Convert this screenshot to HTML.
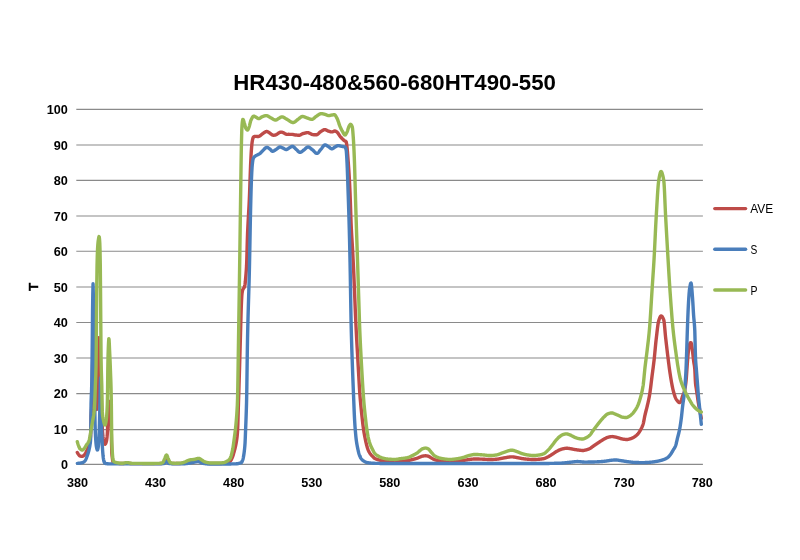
<!DOCTYPE html>
<html><head><meta charset="utf-8"><title>HR430-480&amp;560-680HT490-550</title>
<style>
html,body{margin:0;padding:0;background:#fff;}
body{width:800px;height:560px;overflow:hidden;}
svg{display:block;font-family:"Liberation Sans",sans-serif;will-change:transform;opacity:0.999;}
.g line{stroke:#8a8a8a;stroke-width:1.2;}
.ax text{font-size:12.2px;font-weight:bold;fill:#000;}
.c path{fill:none;stroke-width:3.4;stroke-linecap:round;stroke-linejoin:round;}
.lg text{font-size:12px;fill:#000;}
.lg line{stroke-width:3.4;stroke-linecap:round;}
</style></head><body>
<svg width="800" height="560" viewBox="0 0 800 560">
<rect width="800" height="560" fill="#fff"/>
<text x="394.6" y="89.5" text-anchor="middle" font-size="21.5" font-weight="bold" textLength="322.6" lengthAdjust="spacingAndGlyphs">HR430-480&amp;560-680HT490-550</text>
<g class="g"><line x1="76.3" x2="702.9" y1="464.45" y2="464.45"/><line x1="76.3" x2="702.9" y1="429.55" y2="429.55"/><line x1="76.3" x2="702.9" y1="393.70" y2="393.70"/><line x1="76.3" x2="702.9" y1="358.00" y2="358.00"/><line x1="76.3" x2="702.9" y1="322.50" y2="322.50"/><line x1="76.3" x2="702.9" y1="287.00" y2="287.00"/><line x1="76.3" x2="702.9" y1="251.25" y2="251.25"/><line x1="76.3" x2="702.9" y1="216.00" y2="216.00"/><line x1="76.3" x2="702.9" y1="180.40" y2="180.40"/><line x1="76.3" x2="702.9" y1="145.00" y2="145.00"/><line x1="76.3" x2="702.9" y1="109.45" y2="109.45"/></g>
<g class="ax"><text x="67.9" y="469.10" text-anchor="end" textLength="7.0" lengthAdjust="spacingAndGlyphs">0</text><text x="67.9" y="433.60" text-anchor="end" textLength="14.1" lengthAdjust="spacingAndGlyphs">10</text><text x="67.9" y="398.10" text-anchor="end" textLength="14.1" lengthAdjust="spacingAndGlyphs">20</text><text x="67.9" y="362.60" text-anchor="end" textLength="14.1" lengthAdjust="spacingAndGlyphs">30</text><text x="67.9" y="327.10" text-anchor="end" textLength="14.1" lengthAdjust="spacingAndGlyphs">40</text><text x="67.9" y="291.60" text-anchor="end" textLength="14.1" lengthAdjust="spacingAndGlyphs">50</text><text x="67.9" y="256.10" text-anchor="end" textLength="14.1" lengthAdjust="spacingAndGlyphs">60</text><text x="67.9" y="220.60" text-anchor="end" textLength="14.1" lengthAdjust="spacingAndGlyphs">70</text><text x="67.9" y="185.10" text-anchor="end" textLength="14.1" lengthAdjust="spacingAndGlyphs">80</text><text x="67.9" y="149.60" text-anchor="end" textLength="14.1" lengthAdjust="spacingAndGlyphs">90</text><text x="67.9" y="114.10" text-anchor="end" textLength="21.1" lengthAdjust="spacingAndGlyphs">100</text><text x="77.50" y="487" text-anchor="middle" textLength="21.1" lengthAdjust="spacingAndGlyphs">380</text><text x="155.59" y="487" text-anchor="middle" textLength="21.1" lengthAdjust="spacingAndGlyphs">430</text><text x="233.68" y="487" text-anchor="middle" textLength="21.1" lengthAdjust="spacingAndGlyphs">480</text><text x="311.77" y="487" text-anchor="middle" textLength="21.1" lengthAdjust="spacingAndGlyphs">530</text><text x="389.86" y="487" text-anchor="middle" textLength="21.1" lengthAdjust="spacingAndGlyphs">580</text><text x="467.95" y="487" text-anchor="middle" textLength="21.1" lengthAdjust="spacingAndGlyphs">630</text><text x="546.04" y="487" text-anchor="middle" textLength="21.1" lengthAdjust="spacingAndGlyphs">680</text><text x="624.13" y="487" text-anchor="middle" textLength="21.1" lengthAdjust="spacingAndGlyphs">730</text><text x="702.22" y="487" text-anchor="middle" textLength="21.1" lengthAdjust="spacingAndGlyphs">780</text></g>
<text transform="translate(38.4,286.9) rotate(-90)" text-anchor="middle" font-size="13.5" font-weight="bold" stroke="#000" stroke-width="0.45">T</text>
<g class="c">
<path stroke="#BE4B48" d="M77.30,452.51 L77.55,452.97 L77.80,453.40 L78.05,453.80 L78.30,454.17 L78.55,454.50 L78.80,454.82 L79.05,455.13 L79.30,455.42 L79.55,455.66 L79.80,455.85 L80.05,455.97 L80.30,456.06 L80.55,456.15 L80.80,456.22 L81.05,456.28 L81.30,456.33 L81.55,456.36 L81.80,456.37 L82.05,456.37 L82.30,456.35 L82.55,456.29 L82.80,456.19 L83.05,456.04 L83.30,455.86 L83.55,455.66 L83.80,455.43 L84.05,455.18 L84.30,454.93 L84.55,454.67 L84.80,454.37 L85.05,454.02 L85.30,453.62 L85.55,453.20 L85.80,452.74 L86.05,452.25 L86.30,451.74 L86.55,451.22 L86.80,450.71 L87.05,450.20 L87.30,449.68 L87.55,449.15 L87.80,448.60 L88.05,448.02 L88.30,447.38 L88.55,446.69 L88.80,445.92 L89.05,445.08 L89.30,444.14 L89.55,443.08 L89.80,441.81 L90.05,440.31 L90.30,438.75 L90.55,436.64 L90.80,430.18 L91.05,416.66 L91.30,412.47 L91.55,409.25 L91.80,403.55 L92.05,392.70 L92.30,380.66 L92.55,366.30 L92.80,357.07 L93.05,351.34 L93.30,355.78 L93.55,363.84 L93.80,371.80 L94.05,380.00 L94.30,389.01 L94.55,395.84 L94.80,404.01 L95.05,408.74 L95.30,409.26 L95.55,408.46 L95.80,407.07 L96.05,406.57 L96.30,407.43 L96.55,408.72 L96.80,409.38 L97.05,407.08 L97.30,401.78 L97.55,395.75 L97.80,388.48 L98.05,378.72 L98.30,364.11 L98.55,346.86 L98.80,337.61 L99.05,337.59 L99.30,343.70 L99.55,348.68 L99.80,353.68 L100.05,359.00 L100.30,364.65 L100.55,370.79 L100.80,377.69 L101.05,385.31 L101.30,393.40 L101.55,402.74 L101.80,413.02 L102.05,422.32 L102.30,428.58 L102.55,432.16 L102.80,434.85 L103.05,437.01 L103.30,438.73 L103.55,440.15 L103.80,441.36 L104.05,442.30 L104.30,443.06 L104.55,443.66 L104.80,444.05 L105.05,444.17 L105.30,444.03 L105.55,443.69 L105.80,443.18 L106.05,442.54 L106.30,441.81 L106.55,440.73 L106.80,439.08 L107.05,436.97 L107.30,434.11 L107.55,428.58 L107.80,416.33 L108.05,409.85 L108.30,405.99 L108.55,403.04 L108.80,401.29 L109.05,401.59 L109.30,403.90 L109.55,406.81 L109.80,409.42 L110.05,412.23 L110.30,415.31 L110.55,418.67 L110.80,422.00 L111.05,426.00 L111.30,432.00 L111.55,443.41 L111.80,452.74 L112.05,455.83 L112.30,457.75 L112.55,459.54 L112.80,461.13 L113.05,461.91 L113.30,462.24 L113.55,462.47 L113.80,462.63 L114.05,462.73 L114.30,462.81 L114.55,462.88 L114.80,462.95 L115.05,463.00 L115.30,463.06 L115.55,463.10 L115.80,463.14 L116.05,463.18 L116.30,463.21 L116.55,463.24 L116.80,463.27 L117.05,463.30 L117.30,463.32 L117.55,463.34 L117.80,463.36 L118.05,463.38 L118.30,463.40 L118.55,463.42 L118.80,463.43 L119.05,463.45 L119.30,463.47 L119.55,463.48 L119.80,463.50 L120.05,463.51 L120.30,463.52 L120.55,463.53 L120.80,463.54 L121.05,463.55 L121.30,463.56 L121.55,463.56 L121.80,463.56 L122.05,463.56 L122.30,463.56 L122.55,463.55 L122.80,463.54 L123.05,463.53 L123.30,463.51 L123.55,463.49 L123.80,463.47 L124.05,463.44 L124.30,463.42 L124.55,463.39 L124.80,463.37 L125.05,463.35 L125.30,463.32 L125.55,463.30 L125.80,463.29 L126.05,463.27 L126.30,463.26 L126.55,463.25 L126.80,463.24 L127.05,463.24 L127.30,463.25 L127.55,463.26 L127.80,463.27 L128.05,463.29 L128.30,463.31 L128.55,463.33 L128.80,463.35 L129.05,463.38 L129.30,463.40 L129.55,463.43 L129.80,463.45 L130.05,463.48 L130.30,463.50 L130.55,463.52 L130.80,463.54 L131.05,463.56 L131.30,463.58 L131.55,463.59 L131.80,463.59 L132.05,463.60 L132.30,463.60 L132.55,463.60 L132.80,463.60 L133.05,463.60 L133.30,463.60 L133.55,463.61 L133.80,463.61 L134.05,463.61 L134.30,463.61 L134.55,463.61 L134.80,463.61 L135.05,463.61 L135.30,463.62 L135.55,463.62 L135.80,463.62 L136.05,463.62 L136.30,463.62 L136.55,463.62 L136.80,463.62 L137.05,463.62 L137.30,463.62 L137.55,463.62 L137.80,463.62 L138.05,463.63 L138.30,463.63 L138.55,463.63 L138.80,463.63 L139.05,463.63 L139.30,463.63 L139.55,463.63 L139.80,463.63 L140.05,463.63 L140.30,463.63 L140.55,463.63 L140.80,463.63 L141.05,463.63 L141.30,463.63 L141.55,463.63 L141.80,463.63 L142.05,463.63 L142.30,463.64 L142.55,463.64 L142.80,463.64 L143.05,463.64 L143.30,463.64 L143.55,463.64 L143.80,463.64 L144.05,463.64 L144.30,463.64 L144.55,463.64 L144.80,463.64 L145.05,463.64 L145.30,463.64 L145.55,463.64 L145.80,463.64 L146.05,463.64 L146.30,463.64 L146.55,463.64 L146.80,463.64 L147.05,463.64 L147.30,463.64 L147.55,463.64 L147.80,463.64 L148.05,463.64 L148.30,463.64 L148.55,463.64 L148.80,463.64 L149.05,463.64 L149.30,463.64 L149.55,463.64 L149.80,463.64 L150.05,463.63 L150.30,463.63 L150.55,463.63 L150.80,463.63 L151.05,463.63 L151.30,463.63 L151.55,463.63 L151.80,463.63 L152.05,463.63 L152.30,463.63 L152.55,463.63 L152.80,463.63 L153.05,463.63 L153.30,463.63 L153.55,463.62 L153.80,463.62 L154.05,463.62 L154.30,463.62 L154.55,463.62 L154.80,463.62 L155.05,463.62 L155.30,463.61 L155.55,463.61 L155.80,463.61 L156.05,463.61 L156.30,463.61 L156.55,463.60 L156.80,463.60 L157.05,463.60 L157.30,463.60 L157.55,463.60 L157.80,463.59 L158.05,463.59 L158.30,463.59 L158.55,463.58 L158.80,463.58 L159.05,463.58 L159.30,463.58 L159.55,463.57 L159.80,463.57 L160.05,463.56 L160.30,463.56 L160.55,463.54 L160.80,463.52 L161.05,463.50 L161.30,463.47 L161.55,463.43 L161.80,463.39 L162.05,463.34 L162.30,463.29 L162.55,463.23 L162.80,463.11 L163.05,462.92 L163.30,462.68 L163.55,462.39 L163.80,462.09 L164.05,461.78 L164.30,461.45 L164.55,461.11 L164.80,460.72 L165.05,460.27 L165.30,459.80 L165.55,459.35 L165.80,458.95 L166.05,458.62 L166.30,458.42 L166.55,458.37 L166.80,458.50 L167.05,458.78 L167.30,459.17 L167.55,459.64 L167.80,460.14 L168.05,460.63 L168.30,461.07 L168.55,461.43 L168.80,461.74 L169.05,462.03 L169.30,462.30 L169.55,462.55 L169.80,462.78 L170.05,462.98 L170.30,463.13 L170.55,463.22 L170.80,463.26 L171.05,463.29 L171.30,463.33 L171.55,463.36 L171.80,463.39 L172.05,463.42 L172.30,463.44 L172.55,463.46 L172.80,463.48 L173.05,463.50 L173.30,463.52 L173.55,463.53 L173.80,463.54 L174.05,463.55 L174.30,463.56 L174.55,463.56 L174.80,463.57 L175.05,463.57 L175.30,463.57 L175.55,463.56 L175.80,463.56 L176.05,463.56 L176.30,463.56 L176.55,463.55 L176.80,463.55 L177.05,463.54 L177.30,463.54 L177.55,463.53 L177.80,463.53 L178.05,463.52 L178.30,463.51 L178.55,463.51 L178.80,463.50 L179.05,463.49 L179.30,463.48 L179.55,463.47 L179.80,463.46 L180.05,463.45 L180.30,463.44 L180.55,463.43 L180.80,463.41 L181.05,463.40 L181.30,463.39 L181.55,463.37 L181.80,463.34 L182.05,463.31 L182.30,463.28 L182.55,463.24 L182.80,463.21 L183.05,463.17 L183.30,463.12 L183.55,463.08 L183.80,463.03 L184.05,462.98 L184.30,462.94 L184.55,462.89 L184.80,462.84 L185.05,462.79 L185.30,462.74 L185.55,462.68 L185.80,462.61 L186.05,462.54 L186.30,462.46 L186.55,462.38 L186.80,462.30 L187.05,462.22 L187.30,462.14 L187.55,462.06 L187.80,461.99 L188.05,461.92 L188.30,461.85 L188.55,461.79 L188.80,461.72 L189.05,461.66 L189.30,461.60 L189.55,461.54 L189.80,461.48 L190.05,461.43 L190.30,461.38 L190.55,461.33 L190.80,461.29 L191.05,461.25 L191.30,461.22 L191.55,461.18 L191.80,461.15 L192.05,461.12 L192.30,461.08 L192.55,461.05 L192.80,461.02 L193.05,460.98 L193.30,460.94 L193.55,460.90 L193.80,460.85 L194.05,460.81 L194.30,460.76 L194.55,460.70 L194.80,460.64 L195.05,460.58 L195.30,460.52 L195.55,460.46 L195.80,460.40 L196.05,460.33 L196.30,460.28 L196.55,460.22 L196.80,460.17 L197.05,460.12 L197.30,460.07 L197.55,460.04 L197.80,460.01 L198.05,459.99 L198.30,459.98 L198.55,459.99 L198.80,460.02 L199.05,460.06 L199.30,460.14 L199.55,460.23 L199.80,460.34 L200.05,460.47 L200.30,460.61 L200.55,460.76 L200.80,460.91 L201.05,461.06 L201.30,461.21 L201.55,461.36 L201.80,461.49 L202.05,461.62 L202.30,461.74 L202.55,461.86 L202.80,461.97 L203.05,462.08 L203.30,462.19 L203.55,462.29 L203.80,462.40 L204.05,462.49 L204.30,462.58 L204.55,462.66 L204.80,462.73 L205.05,462.79 L205.30,462.84 L205.55,462.89 L205.80,462.95 L206.05,462.99 L206.30,463.04 L206.55,463.09 L206.80,463.13 L207.05,463.18 L207.30,463.22 L207.55,463.25 L207.80,463.29 L208.05,463.32 L208.30,463.36 L208.55,463.38 L208.80,463.41 L209.05,463.43 L209.30,463.45 L209.55,463.47 L209.80,463.48 L210.05,463.50 L210.30,463.50 L210.55,463.51 L210.80,463.51 L211.05,463.51 L211.30,463.51 L211.55,463.51 L211.80,463.51 L212.05,463.51 L212.30,463.51 L212.55,463.51 L212.80,463.51 L213.05,463.51 L213.30,463.51 L213.55,463.51 L213.80,463.51 L214.05,463.51 L214.30,463.51 L214.55,463.51 L214.80,463.51 L215.05,463.51 L215.30,463.51 L215.55,463.51 L215.80,463.51 L216.05,463.51 L216.30,463.51 L216.55,463.51 L216.80,463.51 L217.05,463.51 L217.30,463.51 L217.55,463.51 L217.80,463.51 L218.05,463.51 L218.30,463.50 L218.55,463.50 L218.80,463.50 L219.05,463.50 L219.30,463.49 L219.55,463.49 L219.80,463.48 L220.05,463.48 L220.30,463.47 L220.55,463.46 L220.80,463.45 L221.05,463.45 L221.30,463.44 L221.55,463.43 L221.80,463.42 L222.05,463.40 L222.30,463.39 L222.55,463.38 L222.80,463.37 L223.05,463.35 L223.30,463.34 L223.55,463.32 L223.80,463.31 L224.05,463.29 L224.30,463.26 L224.55,463.22 L224.80,463.17 L225.05,463.12 L225.30,463.06 L225.55,463.00 L225.80,462.93 L226.05,462.87 L226.30,462.79 L226.55,462.72 L226.80,462.65 L227.05,462.57 L227.30,462.50 L227.55,462.43 L227.80,462.35 L228.05,462.27 L228.30,462.18 L228.55,462.09 L228.80,461.98 L229.05,461.87 L229.30,461.75 L229.55,461.61 L229.80,461.46 L230.05,461.29 L230.30,461.07 L230.55,460.79 L230.80,460.44 L231.05,460.05 L231.30,459.61 L231.55,459.12 L231.80,458.61 L232.05,458.07 L232.30,457.51 L232.55,456.94 L232.80,456.28 L233.05,455.53 L233.30,454.70 L233.55,453.81 L233.80,452.89 L234.05,451.95 L234.30,451.02 L234.55,450.10 L234.80,449.19 L235.05,448.22 L235.30,447.18 L235.55,446.04 L235.80,444.84 L236.05,443.56 L236.30,442.16 L236.55,440.62 L236.80,438.90 L237.05,436.98 L237.30,434.62 L237.55,431.28 L237.80,425.38 L238.05,417.33 L238.30,408.51 L238.55,400.26 L238.80,392.37 L239.05,384.37 L239.30,376.22 L239.55,367.88 L239.80,359.23 L240.05,350.23 L240.30,341.15 L240.55,332.25 L240.80,323.27 L241.05,314.06 L241.30,306.17 L241.55,300.47 L241.80,295.81 L242.05,293.21 L242.30,291.66 L242.55,290.43 L242.80,289.61 L243.05,289.17 L243.30,288.77 L243.55,288.40 L243.80,288.03 L244.05,287.64 L244.30,287.14 L244.55,286.41 L244.80,285.50 L245.05,284.31 L245.30,282.05 L245.55,279.17 L245.80,276.42 L246.05,273.45 L246.30,270.03 L246.55,265.95 L246.80,259.47 L247.05,250.42 L247.30,241.11 L247.55,233.85 L247.80,228.19 L248.05,223.15 L248.30,218.52 L248.55,214.09 L248.80,209.66 L249.05,205.00 L249.30,199.82 L249.55,193.81 L249.80,186.90 L250.05,179.62 L250.30,172.51 L250.55,166.12 L250.80,160.58 L251.05,155.50 L251.30,151.21 L251.55,147.92 L251.80,145.06 L252.05,142.69 L252.30,140.97 L252.55,139.71 L252.80,138.66 L253.05,137.86 L253.30,137.34 L253.55,137.03 L253.80,136.81 L254.05,136.66 L254.30,136.56 L254.55,136.50 L254.80,136.46 L255.05,136.43 L255.30,136.42 L255.55,136.41 L255.80,136.41 L256.05,136.41 L256.30,136.41 L256.55,136.43 L256.80,136.45 L257.05,136.48 L257.30,136.50 L257.55,136.51 L257.80,136.51 L258.05,136.50 L258.30,136.49 L258.55,136.45 L258.80,136.39 L259.05,136.31 L259.30,136.20 L259.55,136.07 L259.80,135.92 L260.05,135.75 L260.30,135.57 L260.55,135.36 L260.80,135.15 L261.05,134.93 L261.30,134.71 L261.55,134.49 L261.80,134.29 L262.05,134.10 L262.30,133.93 L262.55,133.76 L262.80,133.59 L263.05,133.42 L263.30,133.24 L263.55,133.06 L263.80,132.88 L264.05,132.70 L264.30,132.52 L264.55,132.35 L264.80,132.19 L265.05,132.05 L265.30,131.91 L265.55,131.79 L265.80,131.69 L266.05,131.61 L266.30,131.56 L266.55,131.53 L266.80,131.53 L267.05,131.56 L267.30,131.63 L267.55,131.71 L267.80,131.82 L268.05,131.95 L268.30,132.10 L268.55,132.26 L268.80,132.43 L269.05,132.60 L269.30,132.78 L269.55,132.95 L269.80,133.13 L270.05,133.29 L270.30,133.47 L270.55,133.67 L270.80,133.88 L271.05,134.08 L271.30,134.28 L271.55,134.48 L271.80,134.66 L272.05,134.83 L272.30,134.96 L272.55,135.05 L272.80,135.11 L273.05,135.16 L273.30,135.20 L273.55,135.21 L273.80,135.22 L274.05,135.21 L274.30,135.19 L274.55,135.15 L274.80,135.11 L275.05,135.06 L275.30,134.99 L275.55,134.92 L275.80,134.83 L276.05,134.74 L276.30,134.62 L276.55,134.48 L276.80,134.33 L277.05,134.15 L277.30,133.97 L277.55,133.78 L277.80,133.60 L278.05,133.41 L278.30,133.23 L278.55,133.06 L278.80,132.90 L279.05,132.77 L279.30,132.64 L279.55,132.53 L279.80,132.42 L280.05,132.33 L280.30,132.26 L280.55,132.21 L280.80,132.17 L281.05,132.15 L281.30,132.15 L281.55,132.17 L281.80,132.20 L282.05,132.26 L282.30,132.34 L282.55,132.42 L282.80,132.50 L283.05,132.60 L283.30,132.70 L283.55,132.82 L283.80,132.95 L284.05,133.09 L284.30,133.23 L284.55,133.38 L284.80,133.53 L285.05,133.67 L285.30,133.81 L285.55,133.93 L285.80,134.05 L286.05,134.15 L286.30,134.23 L286.55,134.29 L286.80,134.33 L287.05,134.34 L287.30,134.35 L287.55,134.35 L287.80,134.34 L288.05,134.33 L288.30,134.32 L288.55,134.32 L288.80,134.32 L289.05,134.32 L289.30,134.33 L289.55,134.35 L289.80,134.37 L290.05,134.38 L290.30,134.38 L290.55,134.38 L290.80,134.37 L291.05,134.37 L291.30,134.36 L291.55,134.36 L291.80,134.36 L292.05,134.37 L292.30,134.38 L292.55,134.40 L292.80,134.44 L293.05,134.49 L293.30,134.55 L293.55,134.62 L293.80,134.69 L294.05,134.75 L294.30,134.82 L294.55,134.88 L294.80,134.93 L295.05,134.98 L295.30,135.02 L295.55,135.04 L295.80,135.06 L296.05,135.05 L296.30,135.05 L296.55,135.06 L296.80,135.08 L297.05,135.11 L297.30,135.14 L297.55,135.17 L297.80,135.22 L298.05,135.26 L298.30,135.29 L298.55,135.31 L298.80,135.31 L299.05,135.30 L299.30,135.26 L299.55,135.21 L299.80,135.13 L300.05,135.04 L300.30,134.92 L300.55,134.80 L300.80,134.67 L301.05,134.53 L301.30,134.39 L301.55,134.25 L301.80,134.11 L302.05,133.98 L302.30,133.86 L302.55,133.75 L302.80,133.65 L303.05,133.57 L303.30,133.49 L303.55,133.42 L303.80,133.36 L304.05,133.31 L304.30,133.26 L304.55,133.21 L304.80,133.15 L305.05,133.08 L305.30,133.02 L305.55,132.95 L305.80,132.89 L306.05,132.83 L306.30,132.77 L306.55,132.71 L306.80,132.67 L307.05,132.63 L307.30,132.60 L307.55,132.60 L307.80,132.62 L308.05,132.66 L308.30,132.72 L308.55,132.79 L308.80,132.88 L309.05,132.98 L309.30,133.09 L309.55,133.21 L309.80,133.33 L310.05,133.46 L310.30,133.59 L310.55,133.72 L310.80,133.85 L311.05,133.98 L311.30,134.11 L311.55,134.23 L311.80,134.34 L312.05,134.43 L312.30,134.50 L312.55,134.55 L312.80,134.59 L313.05,134.63 L313.30,134.66 L313.55,134.69 L313.80,134.72 L314.05,134.74 L314.30,134.76 L314.55,134.78 L314.80,134.80 L315.05,134.81 L315.30,134.81 L315.55,134.82 L315.80,134.82 L316.05,134.82 L316.30,134.80 L316.55,134.76 L316.80,134.69 L317.05,134.60 L317.30,134.48 L317.55,134.33 L317.80,134.15 L318.05,133.96 L318.30,133.75 L318.55,133.53 L318.80,133.29 L319.05,133.05 L319.30,132.81 L319.55,132.58 L319.80,132.34 L320.05,132.12 L320.30,131.91 L320.55,131.71 L320.80,131.54 L321.05,131.39 L321.30,131.24 L321.55,131.09 L321.80,130.93 L322.05,130.77 L322.30,130.61 L322.55,130.46 L322.80,130.30 L323.05,130.16 L323.30,130.03 L323.55,129.91 L323.80,129.81 L324.05,129.73 L324.30,129.67 L324.55,129.63 L324.80,129.62 L325.05,129.64 L325.30,129.69 L325.55,129.76 L325.80,129.85 L326.05,129.95 L326.30,130.07 L326.55,130.19 L326.80,130.32 L327.05,130.46 L327.30,130.59 L327.55,130.72 L327.80,130.85 L328.05,130.96 L328.30,131.07 L328.55,131.15 L328.80,131.24 L329.05,131.32 L329.30,131.40 L329.55,131.48 L329.80,131.56 L330.05,131.64 L330.30,131.71 L330.55,131.77 L330.80,131.82 L331.05,131.86 L331.30,131.90 L331.55,131.92 L331.80,131.92 L332.05,131.89 L332.30,131.85 L332.55,131.78 L332.80,131.70 L333.05,131.61 L333.30,131.51 L333.55,131.41 L333.80,131.30 L334.05,131.20 L334.30,131.10 L334.55,131.02 L334.80,131.00 L335.05,131.03 L335.30,131.10 L335.55,131.20 L335.80,131.32 L336.05,131.46 L336.30,131.62 L336.55,131.78 L336.80,131.95 L337.05,132.12 L337.30,132.32 L337.55,132.58 L337.80,132.88 L338.05,133.22 L338.30,133.59 L338.55,133.98 L338.80,134.38 L339.05,134.78 L339.30,135.18 L339.55,135.56 L339.80,135.92 L340.05,136.25 L340.30,136.57 L340.55,136.87 L340.80,137.17 L341.05,137.47 L341.30,137.75 L341.55,138.02 L341.80,138.28 L342.05,138.53 L342.30,138.76 L342.55,138.99 L342.80,139.22 L343.05,139.47 L343.30,139.73 L343.55,139.98 L343.80,140.23 L344.05,140.45 L344.30,140.65 L344.55,140.81 L344.80,140.93 L345.05,141.01 L345.30,141.10 L345.55,141.24 L345.80,141.46 L346.05,141.74 L346.30,142.19 L346.55,143.52 L346.80,145.43 L347.05,147.56 L347.30,150.16 L347.55,153.14 L347.80,156.34 L348.05,159.63 L348.30,162.90 L348.55,166.27 L348.80,169.86 L349.05,173.76 L349.30,177.99 L349.55,182.66 L349.80,187.84 L350.05,193.52 L350.30,200.26 L350.55,207.79 L350.80,215.43 L351.05,222.45 L351.30,228.15 L351.55,232.91 L351.80,237.20 L352.05,241.20 L352.30,245.06 L352.55,249.27 L352.80,253.92 L353.05,258.76 L353.30,263.63 L353.55,268.65 L353.80,274.04 L354.05,279.88 L354.30,285.87 L354.55,291.78 L354.80,298.07 L355.05,304.52 L355.30,310.69 L355.55,316.36 L355.80,321.81 L356.05,327.05 L356.30,332.06 L356.55,336.84 L356.80,341.39 L357.05,345.80 L357.30,350.14 L357.55,354.52 L357.80,358.98 L358.05,363.45 L358.30,367.91 L358.55,372.33 L358.80,376.76 L359.05,381.28 L359.30,385.68 L359.55,389.78 L359.80,393.38 L360.05,396.61 L360.30,399.63 L360.55,402.45 L360.80,405.12 L361.05,407.66 L361.30,410.10 L361.55,412.49 L361.80,414.85 L362.05,417.16 L362.30,419.42 L362.55,421.62 L362.80,423.73 L363.05,425.74 L363.30,427.65 L363.55,429.44 L363.80,431.10 L364.05,432.64 L364.30,434.07 L364.55,435.43 L364.80,436.72 L365.05,437.97 L365.30,439.18 L365.55,440.37 L365.80,441.53 L366.05,442.65 L366.30,443.73 L366.55,444.74 L366.80,445.69 L367.05,446.58 L367.30,447.42 L367.55,448.22 L367.80,448.96 L368.05,449.65 L368.30,450.26 L368.55,450.82 L368.80,451.34 L369.05,451.82 L369.30,452.27 L369.55,452.70 L369.80,453.10 L370.05,453.47 L370.30,453.82 L370.55,454.16 L370.80,454.48 L371.05,454.78 L371.30,455.07 L371.55,455.36 L371.80,455.63 L372.05,455.89 L372.30,456.15 L372.55,456.40 L372.80,456.66 L373.05,456.91 L373.30,457.16 L373.55,457.41 L373.80,457.65 L374.05,457.87 L374.30,458.08 L374.55,458.26 L374.80,458.43 L375.05,458.57 L375.30,458.69 L375.55,458.81 L375.80,458.92 L376.05,459.03 L376.30,459.12 L376.55,459.22 L376.80,459.30 L377.05,459.39 L377.30,459.47 L377.55,459.55 L377.80,459.62 L378.05,459.69 L378.30,459.76 L378.55,459.84 L378.80,459.91 L379.05,459.97 L379.30,460.04 L379.55,460.11 L379.80,460.18 L380.05,460.24 L380.30,460.30 L380.55,460.36 L380.80,460.42 L381.05,460.47 L381.30,460.53 L381.55,460.58 L381.80,460.62 L382.05,460.67 L382.30,460.71 L382.55,460.75 L382.80,460.78 L383.05,460.82 L383.30,460.85 L383.55,460.88 L383.80,460.92 L384.05,460.95 L384.30,460.98 L384.55,461.01 L384.80,461.04 L385.05,461.06 L385.30,461.09 L385.55,461.12 L385.80,461.14 L386.05,461.16 L386.30,461.18 L386.55,461.20 L386.80,461.22 L387.05,461.24 L387.30,461.26 L387.55,461.27 L387.80,461.28 L388.05,461.29 L388.30,461.30 L388.55,461.32 L388.80,461.33 L389.05,461.34 L389.30,461.35 L389.55,461.35 L389.80,461.36 L390.05,461.37 L390.30,461.38 L390.55,461.39 L390.80,461.40 L391.05,461.41 L391.30,461.41 L391.55,461.42 L391.80,461.43 L392.05,461.43 L392.30,461.44 L392.55,461.44 L392.80,461.45 L393.05,461.45 L393.30,461.46 L393.55,461.46 L393.80,461.46 L394.05,461.47 L394.30,461.47 L394.55,461.47 L394.80,461.47 L395.05,461.47 L395.30,461.47 L395.55,461.46 L395.80,461.45 L396.05,461.44 L396.30,461.43 L396.55,461.41 L396.80,461.40 L397.05,461.38 L397.30,461.36 L397.55,461.33 L397.80,461.31 L398.05,461.29 L398.30,461.26 L398.55,461.24 L398.80,461.22 L399.05,461.19 L399.30,461.17 L399.55,461.15 L399.80,461.13 L400.05,461.11 L400.30,461.10 L400.55,461.08 L400.80,461.06 L401.05,461.05 L401.30,461.03 L401.55,461.02 L401.80,461.00 L402.05,460.99 L402.30,460.97 L402.55,460.96 L402.80,460.94 L403.05,460.93 L403.30,460.91 L403.55,460.90 L403.80,460.88 L404.05,460.87 L404.30,460.85 L404.55,460.84 L404.80,460.82 L405.05,460.80 L405.30,460.78 L405.55,460.76 L405.80,460.74 L406.05,460.72 L406.30,460.70 L406.55,460.68 L406.80,460.66 L407.05,460.63 L407.30,460.61 L407.55,460.58 L407.80,460.55 L408.05,460.51 L408.30,460.47 L408.55,460.43 L408.80,460.39 L409.05,460.34 L409.30,460.29 L409.55,460.23 L409.80,460.18 L410.05,460.12 L410.30,460.06 L410.55,460.00 L410.80,459.94 L411.05,459.88 L411.30,459.82 L411.55,459.75 L411.80,459.69 L412.05,459.63 L412.30,459.57 L412.55,459.51 L412.80,459.45 L413.05,459.39 L413.30,459.32 L413.55,459.26 L413.80,459.20 L414.05,459.14 L414.30,459.07 L414.55,459.00 L414.80,458.94 L415.05,458.87 L415.30,458.80 L415.55,458.73 L415.80,458.65 L416.05,458.58 L416.30,458.50 L416.55,458.42 L416.80,458.34 L417.05,458.26 L417.30,458.17 L417.55,458.07 L417.80,457.97 L418.05,457.87 L418.30,457.76 L418.55,457.65 L418.80,457.54 L419.05,457.43 L419.30,457.32 L419.55,457.21 L419.80,457.11 L420.05,457.01 L420.30,456.92 L420.55,456.81 L420.80,456.71 L421.05,456.61 L421.30,456.51 L421.55,456.41 L421.80,456.33 L422.05,456.25 L422.30,456.19 L422.55,456.14 L422.80,456.09 L423.05,456.05 L423.30,456.01 L423.55,455.97 L423.80,455.93 L424.05,455.90 L424.30,455.87 L424.55,455.84 L424.80,455.82 L425.05,455.81 L425.30,455.80 L425.55,455.79 L425.80,455.79 L426.05,455.81 L426.30,455.83 L426.55,455.86 L426.80,455.90 L427.05,455.95 L427.30,456.00 L427.55,456.05 L427.80,456.11 L428.05,456.17 L428.30,456.23 L428.55,456.31 L428.80,456.42 L429.05,456.54 L429.30,456.68 L429.55,456.83 L429.80,456.99 L430.05,457.16 L430.30,457.32 L430.55,457.48 L430.80,457.63 L431.05,457.77 L431.30,457.91 L431.55,458.05 L431.80,458.19 L432.05,458.34 L432.30,458.49 L432.55,458.63 L432.80,458.77 L433.05,458.92 L433.30,459.05 L433.55,459.18 L433.80,459.31 L434.05,459.43 L434.30,459.54 L434.55,459.64 L434.80,459.72 L435.05,459.80 L435.30,459.87 L435.55,459.94 L435.80,460.01 L436.05,460.07 L436.30,460.13 L436.55,460.19 L436.80,460.25 L437.05,460.31 L437.30,460.36 L437.55,460.42 L437.80,460.47 L438.05,460.52 L438.30,460.56 L438.55,460.61 L438.80,460.65 L439.05,460.69 L439.30,460.73 L439.55,460.77 L439.80,460.80 L440.05,460.83 L440.30,460.86 L440.55,460.89 L440.80,460.92 L441.05,460.94 L441.30,460.97 L441.55,460.99 L441.80,461.01 L442.05,461.04 L442.30,461.06 L442.55,461.08 L442.80,461.10 L443.05,461.12 L443.30,461.14 L443.55,461.17 L443.80,461.19 L444.05,461.21 L444.30,461.23 L444.55,461.24 L444.80,461.26 L445.05,461.28 L445.30,461.30 L445.55,461.31 L445.80,461.33 L446.05,461.34 L446.30,461.36 L446.55,461.37 L446.80,461.39 L447.05,461.40 L447.30,461.41 L447.55,461.42 L447.80,461.43 L448.05,461.44 L448.30,461.45 L448.55,461.45 L448.80,461.46 L449.05,461.46 L449.30,461.47 L449.55,461.47 L449.80,461.47 L450.05,461.47 L450.30,461.47 L450.55,461.47 L450.80,461.46 L451.05,461.46 L451.30,461.45 L451.55,461.45 L451.80,461.44 L452.05,461.43 L452.30,461.42 L452.55,461.41 L452.80,461.39 L453.05,461.38 L453.30,461.37 L453.55,461.35 L453.80,461.34 L454.05,461.32 L454.30,461.31 L454.55,461.29 L454.80,461.28 L455.05,461.26 L455.30,461.25 L455.55,461.23 L455.80,461.22 L456.05,461.20 L456.30,461.19 L456.55,461.17 L456.80,461.15 L457.05,461.13 L457.30,461.12 L457.55,461.10 L457.80,461.08 L458.05,461.05 L458.30,461.03 L458.55,461.01 L458.80,460.99 L459.05,460.96 L459.30,460.94 L459.55,460.91 L459.80,460.89 L460.05,460.86 L460.30,460.84 L460.55,460.81 L460.80,460.78 L461.05,460.75 L461.30,460.72 L461.55,460.70 L461.80,460.67 L462.05,460.64 L462.30,460.61 L462.55,460.58 L462.80,460.55 L463.05,460.51 L463.30,460.47 L463.55,460.44 L463.80,460.40 L464.05,460.35 L464.30,460.31 L464.55,460.27 L464.80,460.22 L465.05,460.18 L465.30,460.13 L465.55,460.08 L465.80,460.04 L466.05,459.99 L466.30,459.94 L466.55,459.90 L466.80,459.85 L467.05,459.81 L467.30,459.77 L467.55,459.72 L467.80,459.68 L468.05,459.65 L468.30,459.61 L468.55,459.57 L468.80,459.54 L469.05,459.51 L469.30,459.48 L469.55,459.45 L469.80,459.42 L470.05,459.39 L470.30,459.36 L470.55,459.33 L470.80,459.30 L471.05,459.27 L471.30,459.24 L471.55,459.22 L471.80,459.19 L472.05,459.16 L472.30,459.14 L472.55,459.11 L472.80,459.09 L473.05,459.07 L473.30,459.05 L473.55,459.03 L473.80,459.02 L474.05,459.01 L474.30,459.00 L474.55,458.99 L474.80,458.99 L475.05,458.99 L475.30,458.99 L475.55,458.99 L475.80,458.99 L476.05,458.99 L476.30,459.00 L476.55,459.00 L476.80,459.00 L477.05,459.01 L477.30,459.01 L477.55,459.02 L477.80,459.03 L478.05,459.03 L478.30,459.04 L478.55,459.05 L478.80,459.06 L479.05,459.06 L479.30,459.07 L479.55,459.08 L479.80,459.09 L480.05,459.10 L480.30,459.11 L480.55,459.11 L480.80,459.12 L481.05,459.13 L481.30,459.14 L481.55,459.15 L481.80,459.16 L482.05,459.17 L482.30,459.17 L482.55,459.18 L482.80,459.19 L483.05,459.21 L483.30,459.22 L483.55,459.23 L483.80,459.24 L484.05,459.26 L484.30,459.27 L484.55,459.29 L484.80,459.30 L485.05,459.32 L485.30,459.33 L485.55,459.35 L485.80,459.36 L486.05,459.38 L486.30,459.39 L486.55,459.40 L486.80,459.42 L487.05,459.43 L487.30,459.44 L487.55,459.46 L487.80,459.47 L488.05,459.48 L488.30,459.49 L488.55,459.49 L488.80,459.50 L489.05,459.51 L489.30,459.51 L489.55,459.52 L489.80,459.52 L490.05,459.52 L490.30,459.52 L490.55,459.52 L490.80,459.51 L491.05,459.51 L491.30,459.50 L491.55,459.50 L491.80,459.49 L492.05,459.48 L492.30,459.47 L492.55,459.46 L492.80,459.45 L493.05,459.44 L493.30,459.43 L493.55,459.42 L493.80,459.40 L494.05,459.39 L494.30,459.38 L494.55,459.36 L494.80,459.35 L495.05,459.33 L495.30,459.32 L495.55,459.30 L495.80,459.28 L496.05,459.27 L496.30,459.25 L496.55,459.23 L496.80,459.21 L497.05,459.18 L497.30,459.15 L497.55,459.11 L497.80,459.08 L498.05,459.04 L498.30,459.00 L498.55,458.95 L498.80,458.91 L499.05,458.86 L499.30,458.81 L499.55,458.76 L499.80,458.71 L500.05,458.66 L500.30,458.61 L500.55,458.56 L500.80,458.51 L501.05,458.46 L501.30,458.41 L501.55,458.36 L501.80,458.31 L502.05,458.26 L502.30,458.22 L502.55,458.17 L502.80,458.13 L503.05,458.09 L503.30,458.05 L503.55,458.01 L503.80,457.97 L504.05,457.92 L504.30,457.88 L504.55,457.84 L504.80,457.79 L505.05,457.74 L505.30,457.70 L505.55,457.65 L505.80,457.60 L506.05,457.56 L506.30,457.51 L506.55,457.47 L506.80,457.42 L507.05,457.38 L507.30,457.33 L507.55,457.29 L507.80,457.25 L508.05,457.21 L508.30,457.17 L508.55,457.13 L508.80,457.09 L509.05,457.06 L509.30,457.03 L509.55,457.00 L509.80,456.97 L510.05,456.95 L510.30,456.93 L510.55,456.91 L510.80,456.89 L511.05,456.88 L511.30,456.87 L511.55,456.86 L511.80,456.86 L512.05,456.86 L512.30,456.86 L512.55,456.88 L512.80,456.89 L513.05,456.92 L513.30,456.94 L513.55,456.97 L513.80,457.01 L514.05,457.04 L514.30,457.08 L514.55,457.13 L514.80,457.17 L515.05,457.21 L515.30,457.26 L515.55,457.31 L515.80,457.35 L516.05,457.40 L516.30,457.45 L516.55,457.49 L516.80,457.53 L517.05,457.57 L517.30,457.62 L517.55,457.66 L517.80,457.71 L518.05,457.76 L518.30,457.81 L518.55,457.86 L518.80,457.91 L519.05,457.96 L519.30,458.02 L519.55,458.07 L519.80,458.12 L520.05,458.18 L520.30,458.23 L520.55,458.28 L520.80,458.33 L521.05,458.38 L521.30,458.43 L521.55,458.48 L521.80,458.52 L522.05,458.56 L522.30,458.60 L522.55,458.64 L522.80,458.67 L523.05,458.71 L523.30,458.74 L523.55,458.78 L523.80,458.81 L524.05,458.84 L524.30,458.88 L524.55,458.91 L524.80,458.94 L525.05,458.97 L525.30,459.00 L525.55,459.03 L525.80,459.06 L526.05,459.08 L526.30,459.11 L526.55,459.13 L526.80,459.16 L527.05,459.18 L527.30,459.20 L527.55,459.22 L527.80,459.24 L528.05,459.26 L528.30,459.27 L528.55,459.29 L528.80,459.31 L529.05,459.32 L529.30,459.34 L529.55,459.35 L529.80,459.37 L530.05,459.39 L530.30,459.40 L530.55,459.42 L530.80,459.43 L531.05,459.44 L531.30,459.45 L531.55,459.47 L531.80,459.48 L532.05,459.49 L532.30,459.49 L532.55,459.50 L532.80,459.51 L533.05,459.51 L533.30,459.52 L533.55,459.52 L533.80,459.52 L534.05,459.52 L534.30,459.51 L534.55,459.51 L534.80,459.50 L535.05,459.50 L535.30,459.49 L535.55,459.48 L535.80,459.46 L536.05,459.45 L536.30,459.44 L536.55,459.42 L536.80,459.41 L537.05,459.39 L537.30,459.38 L537.55,459.36 L537.80,459.34 L538.05,459.32 L538.30,459.30 L538.55,459.29 L538.80,459.27 L539.05,459.25 L539.30,459.23 L539.55,459.21 L539.80,459.19 L540.05,459.16 L540.30,459.14 L540.55,459.11 L540.80,459.09 L541.05,459.06 L541.30,459.03 L541.55,458.99 L541.80,458.96 L542.05,458.92 L542.30,458.88 L542.55,458.84 L542.80,458.80 L543.05,458.76 L543.30,458.71 L543.55,458.66 L543.80,458.61 L544.05,458.56 L544.30,458.49 L544.55,458.41 L544.80,458.32 L545.05,458.23 L545.30,458.13 L545.55,458.02 L545.80,457.91 L546.05,457.80 L546.30,457.68 L546.55,457.56 L546.80,457.43 L547.05,457.30 L547.30,457.18 L547.55,457.05 L547.80,456.92 L548.05,456.80 L548.30,456.67 L548.55,456.54 L548.80,456.40 L549.05,456.26 L549.30,456.12 L549.55,455.97 L549.80,455.83 L550.05,455.67 L550.30,455.52 L550.55,455.36 L550.80,455.21 L551.05,455.05 L551.30,454.89 L551.55,454.73 L551.80,454.57 L552.05,454.41 L552.30,454.25 L552.55,454.09 L552.80,453.92 L553.05,453.76 L553.30,453.59 L553.55,453.41 L553.80,453.24 L554.05,453.06 L554.30,452.88 L554.55,452.71 L554.80,452.53 L555.05,452.36 L555.30,452.20 L555.55,452.04 L555.80,451.89 L556.05,451.74 L556.30,451.60 L556.55,451.45 L556.80,451.31 L557.05,451.17 L557.30,451.04 L557.55,450.90 L557.80,450.77 L558.05,450.64 L558.30,450.51 L558.55,450.39 L558.80,450.27 L559.05,450.15 L559.30,450.04 L559.55,449.94 L559.80,449.83 L560.05,449.74 L560.30,449.64 L560.55,449.55 L560.80,449.45 L561.05,449.36 L561.30,449.27 L561.55,449.18 L561.80,449.10 L562.05,449.02 L562.30,448.95 L562.55,448.88 L562.80,448.82 L563.05,448.77 L563.30,448.72 L563.55,448.67 L563.80,448.62 L564.05,448.57 L564.30,448.52 L564.55,448.47 L564.80,448.43 L565.05,448.39 L565.30,448.36 L565.55,448.32 L565.80,448.30 L566.05,448.28 L566.30,448.26 L566.55,448.25 L566.80,448.25 L567.05,448.26 L567.30,448.27 L567.55,448.29 L567.80,448.31 L568.05,448.34 L568.30,448.37 L568.55,448.40 L568.80,448.43 L569.05,448.47 L569.30,448.50 L569.55,448.54 L569.80,448.58 L570.05,448.61 L570.30,448.65 L570.55,448.68 L570.80,448.73 L571.05,448.77 L571.30,448.82 L571.55,448.87 L571.80,448.92 L572.05,448.98 L572.30,449.03 L572.55,449.08 L572.80,449.14 L573.05,449.19 L573.30,449.25 L573.55,449.30 L573.80,449.35 L574.05,449.40 L574.30,449.44 L574.55,449.49 L574.80,449.53 L575.05,449.56 L575.30,449.60 L575.55,449.64 L575.80,449.67 L576.05,449.71 L576.30,449.75 L576.55,449.79 L576.80,449.83 L577.05,449.87 L577.30,449.91 L577.55,449.94 L577.80,449.98 L578.05,450.02 L578.30,450.05 L578.55,450.09 L578.80,450.12 L579.05,450.14 L579.30,450.17 L579.55,450.20 L579.80,450.23 L580.05,450.26 L580.30,450.29 L580.55,450.32 L580.80,450.35 L581.05,450.37 L581.30,450.40 L581.55,450.42 L581.80,450.44 L582.05,450.46 L582.30,450.48 L582.55,450.49 L582.80,450.49 L583.05,450.49 L583.30,450.47 L583.55,450.45 L583.80,450.41 L584.05,450.38 L584.30,450.33 L584.55,450.28 L584.80,450.22 L585.05,450.16 L585.30,450.10 L585.55,450.04 L585.80,449.98 L586.05,449.92 L586.30,449.86 L586.55,449.79 L586.80,449.72 L587.05,449.65 L587.30,449.57 L587.55,449.49 L587.80,449.41 L588.05,449.32 L588.30,449.23 L588.55,449.13 L588.80,449.03 L589.05,448.93 L589.30,448.82 L589.55,448.70 L589.80,448.58 L590.05,448.46 L590.30,448.32 L590.55,448.16 L590.80,447.99 L591.05,447.81 L591.30,447.61 L591.55,447.41 L591.80,447.21 L592.05,447.02 L592.30,446.83 L592.55,446.65 L592.80,446.47 L593.05,446.30 L593.30,446.12 L593.55,445.95 L593.80,445.78 L594.05,445.60 L594.30,445.43 L594.55,445.26 L594.80,445.09 L595.05,444.91 L595.30,444.74 L595.55,444.57 L595.80,444.40 L596.05,444.23 L596.30,444.07 L596.55,443.90 L596.80,443.73 L597.05,443.56 L597.30,443.39 L597.55,443.22 L597.80,443.05 L598.05,442.89 L598.30,442.72 L598.55,442.55 L598.80,442.38 L599.05,442.21 L599.30,442.05 L599.55,441.88 L599.80,441.72 L600.05,441.55 L600.30,441.39 L600.55,441.23 L600.80,441.07 L601.05,440.91 L601.30,440.76 L601.55,440.60 L601.80,440.44 L602.05,440.29 L602.30,440.13 L602.55,439.98 L602.80,439.83 L603.05,439.68 L603.30,439.53 L603.55,439.39 L603.80,439.24 L604.05,439.10 L604.30,438.97 L604.55,438.84 L604.80,438.71 L605.05,438.57 L605.30,438.43 L605.55,438.30 L605.80,438.16 L606.05,438.03 L606.30,437.90 L606.55,437.78 L606.80,437.67 L607.05,437.57 L607.30,437.48 L607.55,437.40 L607.80,437.34 L608.05,437.27 L608.30,437.20 L608.55,437.13 L608.80,437.07 L609.05,437.01 L609.30,436.95 L609.55,436.90 L609.80,436.84 L610.05,436.79 L610.30,436.75 L610.55,436.71 L610.80,436.67 L611.05,436.64 L611.30,436.62 L611.55,436.60 L611.80,436.58 L612.05,436.57 L612.30,436.57 L612.55,436.58 L612.80,436.60 L613.05,436.63 L613.30,436.67 L613.55,436.71 L613.80,436.75 L614.05,436.80 L614.30,436.85 L614.55,436.90 L614.80,436.95 L615.05,436.99 L615.30,437.04 L615.55,437.08 L615.80,437.14 L616.05,437.19 L616.30,437.25 L616.55,437.31 L616.80,437.38 L617.05,437.45 L617.30,437.52 L617.55,437.59 L617.80,437.66 L618.05,437.74 L618.30,437.81 L618.55,437.89 L618.80,437.96 L619.05,438.04 L619.30,438.12 L619.55,438.20 L619.80,438.28 L620.05,438.36 L620.30,438.44 L620.55,438.52 L620.80,438.60 L621.05,438.68 L621.30,438.75 L621.55,438.82 L621.80,438.89 L622.05,438.95 L622.30,439.00 L622.55,439.04 L622.80,439.08 L623.05,439.12 L623.30,439.16 L623.55,439.19 L623.80,439.23 L624.05,439.27 L624.30,439.30 L624.55,439.34 L624.80,439.37 L625.05,439.40 L625.30,439.43 L625.55,439.45 L625.80,439.48 L626.05,439.50 L626.30,439.52 L626.55,439.53 L626.80,439.53 L627.05,439.51 L627.30,439.48 L627.55,439.45 L627.80,439.41 L628.05,439.36 L628.30,439.30 L628.55,439.25 L628.80,439.19 L629.05,439.13 L629.30,439.07 L629.55,439.01 L629.80,438.95 L630.05,438.88 L630.30,438.81 L630.55,438.73 L630.80,438.65 L631.05,438.56 L631.30,438.46 L631.55,438.36 L631.80,438.26 L632.05,438.15 L632.30,438.04 L632.55,437.93 L632.80,437.81 L633.05,437.68 L633.30,437.54 L633.55,437.40 L633.80,437.25 L634.05,437.09 L634.30,436.93 L634.55,436.76 L634.80,436.58 L635.05,436.41 L635.30,436.23 L635.55,436.05 L635.80,435.86 L636.05,435.66 L636.30,435.46 L636.55,435.25 L636.80,435.03 L637.05,434.80 L637.30,434.56 L637.55,434.31 L637.80,434.03 L638.05,433.74 L638.30,433.42 L638.55,433.09 L638.80,432.75 L639.05,432.38 L639.30,432.00 L639.55,431.61 L639.80,431.21 L640.05,430.80 L640.30,430.38 L640.55,429.96 L640.80,429.52 L641.05,429.06 L641.30,428.58 L641.55,428.08 L641.80,427.54 L642.05,426.98 L642.30,426.37 L642.55,425.73 L642.80,425.05 L643.05,424.31 L643.30,423.40 L643.55,422.32 L643.80,421.11 L644.05,419.82 L644.30,418.50 L644.55,417.19 L644.80,415.94 L645.05,414.81 L645.30,413.75 L645.55,412.73 L645.80,411.74 L646.05,410.76 L646.30,409.78 L646.55,408.81 L646.80,407.81 L647.05,406.79 L647.30,405.74 L647.55,404.67 L647.80,403.62 L648.05,402.56 L648.30,401.48 L648.55,400.37 L648.80,399.20 L649.05,397.96 L649.30,396.64 L649.55,395.21 L649.80,393.63 L650.05,391.92 L650.30,390.10 L650.55,388.19 L650.80,386.21 L651.05,384.18 L651.30,382.13 L651.55,380.08 L651.80,378.04 L652.05,376.04 L652.30,374.09 L652.55,372.20 L652.80,370.32 L653.05,368.45 L653.30,366.54 L653.55,364.59 L653.80,362.56 L654.05,360.43 L654.30,358.12 L654.55,355.66 L654.80,353.09 L655.05,350.47 L655.30,347.84 L655.55,345.25 L655.80,342.75 L656.05,340.41 L656.30,338.25 L656.55,336.11 L656.80,333.95 L657.05,331.78 L657.30,329.68 L657.55,327.66 L657.80,325.78 L658.05,324.09 L658.30,322.62 L658.55,321.42 L658.80,320.52 L659.05,319.74 L659.30,318.99 L659.55,318.29 L659.80,317.65 L660.05,317.08 L660.30,316.62 L660.55,316.26 L660.80,316.04 L661.05,315.96 L661.30,315.98 L661.55,316.09 L661.80,316.28 L662.05,316.54 L662.30,316.87 L662.55,317.26 L662.80,317.72 L663.05,318.24 L663.30,318.81 L663.55,319.43 L663.80,320.11 L664.05,321.39 L664.30,323.36 L664.55,325.83 L664.80,328.61 L665.05,331.51 L665.30,334.32 L665.55,336.86 L665.80,339.11 L666.05,341.31 L666.30,343.50 L666.55,345.66 L666.80,347.80 L667.05,349.91 L667.30,352.01 L667.55,354.08 L667.80,356.13 L668.05,358.15 L668.30,360.16 L668.55,362.17 L668.80,364.15 L669.05,366.10 L669.30,367.98 L669.55,369.79 L669.80,371.49 L670.05,373.15 L670.30,374.78 L670.55,376.40 L670.80,377.98 L671.05,379.51 L671.30,381.00 L671.55,382.44 L671.80,383.82 L672.05,385.15 L672.30,386.42 L672.55,387.62 L672.80,388.76 L673.05,389.82 L673.30,390.83 L673.55,391.79 L673.80,392.70 L674.05,393.58 L674.30,394.41 L674.55,395.20 L674.80,395.94 L675.05,396.64 L675.30,397.30 L675.55,397.91 L675.80,398.45 L676.05,398.92 L676.30,399.34 L676.55,399.72 L676.80,400.07 L677.05,400.40 L677.30,400.72 L677.55,401.05 L677.80,401.37 L678.05,401.66 L678.30,401.93 L678.55,402.14 L678.80,402.32 L679.05,402.46 L679.30,402.55 L679.55,402.58 L679.80,402.52 L680.05,402.37 L680.30,402.10 L680.55,401.73 L680.80,401.28 L681.05,400.77 L681.30,400.21 L681.55,399.55 L681.80,398.77 L682.05,397.93 L682.30,397.07 L682.55,396.24 L682.80,395.51 L683.05,394.88 L683.30,394.33 L683.55,393.79 L683.80,393.21 L684.05,392.53 L684.30,391.70 L684.55,390.65 L684.80,389.42 L685.05,388.06 L685.30,386.61 L685.55,385.07 L685.80,383.31 L686.05,381.15 L686.30,378.24 L686.55,374.83 L686.80,371.36 L687.05,367.58 L687.30,363.80 L687.55,360.50 L687.80,357.50 L688.05,354.69 L688.30,352.16 L688.55,350.05 L688.80,348.29 L689.05,346.69 L689.30,345.38 L689.55,344.46 L689.80,343.88 L690.05,343.38 L690.30,342.97 L690.55,342.70 L690.80,342.61 L691.05,342.76 L691.30,343.42 L691.55,344.60 L691.80,346.15 L692.05,347.91 L692.30,349.74 L692.55,351.51 L692.80,353.52 L693.05,355.82 L693.30,358.16 L693.55,360.33 L693.80,362.12 L694.05,363.60 L694.30,365.07 L694.55,366.84 L694.80,369.26 L695.05,374.09 L695.30,379.82 L695.55,383.58 L695.80,385.68 L696.05,387.31 L696.30,388.85 L696.55,390.55 L696.80,392.25 L697.05,393.92 L697.30,395.61 L697.55,397.36 L697.80,399.19 L698.05,400.98 L698.30,402.59 L698.55,404.03 L698.80,405.37 L699.05,406.66 L699.30,407.92 L699.55,409.20 L699.80,410.51 L700.05,411.81 L700.30,413.10 L700.55,414.39 L700.80,415.68 L701.05,416.95 L701.30,418.22"/>
<path stroke="#4A7EBB" d="M77.30,463.33 L77.55,463.33 L77.80,463.33 L78.05,463.32 L78.30,463.30 L78.55,463.29 L78.80,463.27 L79.05,463.24 L79.30,463.22 L79.55,463.19 L79.80,463.15 L80.05,463.12 L80.30,463.08 L80.55,463.04 L80.80,462.99 L81.05,462.95 L81.30,462.90 L81.55,462.84 L81.80,462.79 L82.05,462.73 L82.30,462.67 L82.55,462.61 L82.80,462.53 L83.05,462.42 L83.30,462.29 L83.55,462.13 L83.80,461.96 L84.05,461.77 L84.30,461.56 L84.55,461.34 L84.80,461.06 L85.05,460.72 L85.30,460.33 L85.55,459.91 L85.80,459.43 L86.05,458.89 L86.30,458.29 L86.55,457.65 L86.80,456.98 L87.05,456.28 L87.30,455.57 L87.55,454.85 L87.80,454.12 L88.05,453.37 L88.30,452.57 L88.55,451.73 L88.80,450.81 L89.05,449.82 L89.30,448.73 L89.55,447.52 L89.80,446.13 L90.05,444.56 L90.30,443.01 L90.55,440.35 L90.80,428.90 L91.05,403.28 L91.30,396.30 L91.55,391.25 L91.80,381.27 L92.05,360.98 L92.30,338.33 L92.55,311.09 L92.80,294.00 L93.05,283.81 L93.30,294.00 L93.55,311.59 L93.80,329.21 L94.05,347.68 L94.30,368.55 L94.55,386.30 L94.80,407.51 L95.05,423.25 L95.30,431.57 L95.55,436.95 L95.80,440.74 L96.05,443.82 L96.30,446.04 L96.55,447.43 L96.80,448.60 L97.05,449.49 L97.30,449.98 L97.55,449.90 L97.80,449.20 L98.05,448.06 L98.30,446.65 L98.55,444.52 L98.80,441.19 L99.05,436.74 L99.30,429.22 L99.55,419.87 L99.80,408.79 L100.05,396.26 L100.30,384.05 L100.55,377.81 L100.80,386.30 L101.05,401.64 L101.30,416.23 L101.55,427.19 L101.80,434.60 L102.05,440.28 L102.30,445.27 L102.55,449.48 L102.80,452.88 L103.05,455.81 L103.30,458.01 L103.55,459.61 L103.80,460.86 L104.05,461.69 L104.30,462.33 L104.55,462.85 L104.80,463.20 L105.05,463.35 L105.30,463.41 L105.55,463.46 L105.80,463.51 L106.05,463.56 L106.30,463.60 L106.55,463.64 L106.80,463.68 L107.05,463.71 L107.30,463.74 L107.55,463.76 L107.80,463.78 L108.05,463.80 L108.30,463.82 L108.55,463.83 L108.80,463.84 L109.05,463.85 L109.30,463.86 L109.55,463.86 L109.80,463.87 L110.05,463.87 L110.30,463.87 L110.55,463.87 L110.80,463.87 L111.05,463.87 L111.30,463.87 L111.55,463.87 L111.80,463.87 L112.05,463.87 L112.30,463.87 L112.55,463.87 L112.80,463.87 L113.05,463.87 L113.30,463.87 L113.55,463.87 L113.80,463.87 L114.05,463.87 L114.30,463.87 L114.55,463.87 L114.80,463.87 L115.05,463.87 L115.30,463.87 L115.55,463.87 L115.80,463.87 L116.05,463.87 L116.30,463.87 L116.55,463.87 L116.80,463.87 L117.05,463.87 L117.30,463.87 L117.55,463.87 L117.80,463.87 L118.05,463.87 L118.30,463.87 L118.55,463.87 L118.80,463.87 L119.05,463.87 L119.30,463.87 L119.55,463.87 L119.80,463.87 L120.05,463.87 L120.30,463.87 L120.55,463.87 L120.80,463.87 L121.05,463.87 L121.30,463.87 L121.55,463.87 L121.80,463.87 L122.05,463.87 L122.30,463.87 L122.55,463.87 L122.80,463.87 L123.05,463.87 L123.30,463.87 L123.55,463.86 L123.80,463.86 L124.05,463.86 L124.30,463.86 L124.55,463.86 L124.80,463.86 L125.05,463.86 L125.30,463.86 L125.55,463.86 L125.80,463.86 L126.05,463.86 L126.30,463.86 L126.55,463.86 L126.80,463.86 L127.05,463.86 L127.30,463.86 L127.55,463.86 L127.80,463.86 L128.05,463.86 L128.30,463.86 L128.55,463.86 L128.80,463.86 L129.05,463.86 L129.30,463.86 L129.55,463.86 L129.80,463.86 L130.05,463.86 L130.30,463.86 L130.55,463.86 L130.80,463.86 L131.05,463.86 L131.30,463.86 L131.55,463.86 L131.80,463.86 L132.05,463.86 L132.30,463.86 L132.55,463.86 L132.80,463.86 L133.05,463.86 L133.30,463.86 L133.55,463.86 L133.80,463.86 L134.05,463.86 L134.30,463.86 L134.55,463.86 L134.80,463.86 L135.05,463.86 L135.30,463.86 L135.55,463.86 L135.80,463.85 L136.05,463.85 L136.30,463.85 L136.55,463.85 L136.80,463.85 L137.05,463.85 L137.30,463.85 L137.55,463.85 L137.80,463.85 L138.05,463.85 L138.30,463.85 L138.55,463.85 L138.80,463.85 L139.05,463.85 L139.30,463.85 L139.55,463.85 L139.80,463.85 L140.05,463.85 L140.30,463.85 L140.55,463.85 L140.80,463.85 L141.05,463.85 L141.30,463.85 L141.55,463.85 L141.80,463.85 L142.05,463.85 L142.30,463.85 L142.55,463.84 L142.80,463.84 L143.05,463.84 L143.30,463.84 L143.55,463.84 L143.80,463.84 L144.05,463.84 L144.30,463.84 L144.55,463.84 L144.80,463.84 L145.05,463.84 L145.30,463.84 L145.55,463.84 L145.80,463.84 L146.05,463.84 L146.30,463.84 L146.55,463.84 L146.80,463.84 L147.05,463.84 L147.30,463.83 L147.55,463.83 L147.80,463.83 L148.05,463.83 L148.30,463.83 L148.55,463.83 L148.80,463.83 L149.05,463.83 L149.30,463.83 L149.55,463.83 L149.80,463.83 L150.05,463.83 L150.30,463.83 L150.55,463.83 L150.80,463.83 L151.05,463.83 L151.30,463.82 L151.55,463.82 L151.80,463.82 L152.05,463.82 L152.30,463.82 L152.55,463.82 L152.80,463.82 L153.05,463.82 L153.30,463.82 L153.55,463.82 L153.80,463.82 L154.05,463.82 L154.30,463.82 L154.55,463.82 L154.80,463.81 L155.05,463.81 L155.30,463.81 L155.55,463.81 L155.80,463.81 L156.05,463.81 L156.30,463.81 L156.55,463.81 L156.80,463.81 L157.05,463.81 L157.30,463.81 L157.55,463.81 L157.80,463.80 L158.05,463.80 L158.30,463.80 L158.55,463.80 L158.80,463.80 L159.05,463.80 L159.30,463.80 L159.55,463.80 L159.80,463.80 L160.05,463.80 L160.30,463.79 L160.55,463.79 L160.80,463.78 L161.05,463.77 L161.30,463.76 L161.55,463.75 L161.80,463.74 L162.05,463.72 L162.30,463.70 L162.55,463.68 L162.80,463.65 L163.05,463.63 L163.30,463.60 L163.55,463.57 L163.80,463.54 L164.05,463.50 L164.30,463.41 L164.55,463.25 L164.80,463.03 L165.05,462.79 L165.30,462.53 L165.55,462.28 L165.80,462.06 L166.05,461.88 L166.30,461.77 L166.55,461.74 L166.80,461.80 L167.05,461.95 L167.30,462.15 L167.55,462.39 L167.80,462.65 L168.05,462.90 L168.30,463.14 L168.55,463.33 L168.80,463.46 L169.05,463.52 L169.30,463.54 L169.55,463.56 L169.80,463.59 L170.05,463.61 L170.30,463.63 L170.55,463.65 L170.80,463.66 L171.05,463.68 L171.30,463.69 L171.55,463.71 L171.80,463.72 L172.05,463.73 L172.30,463.74 L172.55,463.75 L172.80,463.76 L173.05,463.77 L173.30,463.78 L173.55,463.78 L173.80,463.79 L174.05,463.79 L174.30,463.79 L174.55,463.80 L174.80,463.80 L175.05,463.80 L175.30,463.80 L175.55,463.80 L175.80,463.80 L176.05,463.80 L176.30,463.79 L176.55,463.79 L176.80,463.79 L177.05,463.79 L177.30,463.79 L177.55,463.79 L177.80,463.79 L178.05,463.79 L178.30,463.78 L178.55,463.78 L178.80,463.78 L179.05,463.78 L179.30,463.78 L179.55,463.77 L179.80,463.77 L180.05,463.77 L180.30,463.77 L180.55,463.76 L180.80,463.76 L181.05,463.76 L181.30,463.75 L181.55,463.75 L181.80,463.75 L182.05,463.74 L182.30,463.74 L182.55,463.74 L182.80,463.73 L183.05,463.73 L183.30,463.72 L183.55,463.72 L183.80,463.71 L184.05,463.71 L184.30,463.70 L184.55,463.70 L184.80,463.69 L185.05,463.69 L185.30,463.68 L185.55,463.67 L185.80,463.65 L186.05,463.63 L186.30,463.61 L186.55,463.58 L186.80,463.55 L187.05,463.52 L187.30,463.48 L187.55,463.44 L187.80,463.40 L188.05,463.36 L188.30,463.32 L188.55,463.27 L188.80,463.23 L189.05,463.18 L189.30,463.13 L189.55,463.08 L189.80,463.03 L190.05,462.99 L190.30,462.94 L190.55,462.89 L190.80,462.84 L191.05,462.79 L191.30,462.75 L191.55,462.70 L191.80,462.66 L192.05,462.62 L192.30,462.57 L192.55,462.53 L192.80,462.47 L193.05,462.42 L193.30,462.37 L193.55,462.31 L193.80,462.25 L194.05,462.19 L194.30,462.13 L194.55,462.07 L194.80,462.01 L195.05,461.96 L195.30,461.90 L195.55,461.85 L195.80,461.80 L196.05,461.75 L196.30,461.71 L196.55,461.67 L196.80,461.64 L197.05,461.61 L197.30,461.59 L197.55,461.57 L197.80,461.56 L198.05,461.56 L198.30,461.58 L198.55,461.61 L198.80,461.66 L199.05,461.73 L199.30,461.82 L199.55,461.91 L199.80,462.02 L200.05,462.13 L200.30,462.25 L200.55,462.37 L200.80,462.49 L201.05,462.62 L201.30,462.74 L201.55,462.85 L201.80,462.96 L202.05,463.07 L202.30,463.16 L202.55,463.23 L202.80,463.30 L203.05,463.34 L203.30,463.38 L203.55,463.42 L203.80,463.46 L204.05,463.50 L204.30,463.54 L204.55,463.58 L204.80,463.61 L205.05,463.65 L205.30,463.68 L205.55,463.72 L205.80,463.75 L206.05,463.78 L206.30,463.81 L206.55,463.84 L206.80,463.86 L207.05,463.89 L207.30,463.91 L207.55,463.94 L207.80,463.96 L208.05,463.97 L208.30,463.99 L208.55,464.00 L208.80,464.02 L209.05,464.03 L209.30,464.04 L209.55,464.04 L209.80,464.04 L210.05,464.04 L210.30,464.04 L210.55,464.04 L210.80,464.04 L211.05,464.04 L211.30,464.04 L211.55,464.04 L211.80,464.04 L212.05,464.04 L212.30,464.04 L212.55,464.04 L212.80,464.04 L213.05,464.04 L213.30,464.04 L213.55,464.04 L213.80,464.04 L214.05,464.04 L214.30,464.04 L214.55,464.04 L214.80,464.04 L215.05,464.04 L215.30,464.04 L215.55,464.04 L215.80,464.04 L216.05,464.04 L216.30,464.04 L216.55,464.04 L216.80,464.04 L217.05,464.03 L217.30,464.03 L217.55,464.03 L217.80,464.03 L218.05,464.03 L218.30,464.03 L218.55,464.03 L218.80,464.03 L219.05,464.03 L219.30,464.03 L219.55,464.03 L219.80,464.02 L220.05,464.02 L220.30,464.02 L220.55,464.02 L220.80,464.02 L221.05,464.02 L221.30,464.02 L221.55,464.01 L221.80,464.01 L222.05,464.01 L222.30,464.01 L222.55,464.01 L222.80,464.01 L223.05,464.01 L223.30,464.00 L223.55,464.00 L223.80,464.00 L224.05,464.00 L224.30,464.00 L224.55,463.99 L224.80,463.99 L225.05,463.99 L225.30,463.99 L225.55,463.99 L225.80,463.98 L226.05,463.98 L226.30,463.98 L226.55,463.98 L226.80,463.97 L227.05,463.97 L227.30,463.97 L227.55,463.97 L227.80,463.96 L228.05,463.96 L228.30,463.96 L228.55,463.96 L228.80,463.95 L229.05,463.95 L229.30,463.95 L229.55,463.95 L229.80,463.94 L230.05,463.94 L230.30,463.94 L230.55,463.93 L230.80,463.93 L231.05,463.93 L231.30,463.92 L231.55,463.92 L231.80,463.92 L232.05,463.91 L232.30,463.91 L232.55,463.91 L232.80,463.90 L233.05,463.90 L233.30,463.89 L233.55,463.89 L233.80,463.89 L234.05,463.88 L234.30,463.88 L234.55,463.87 L234.80,463.87 L235.05,463.87 L235.30,463.86 L235.55,463.85 L235.80,463.84 L236.05,463.82 L236.30,463.81 L236.55,463.79 L236.80,463.76 L237.05,463.73 L237.30,463.70 L237.55,463.66 L237.80,463.62 L238.05,463.58 L238.30,463.53 L238.55,463.48 L238.80,463.43 L239.05,463.37 L239.30,463.30 L239.55,463.23 L239.80,463.16 L240.05,463.08 L240.30,462.99 L240.55,462.90 L240.80,462.81 L241.05,462.71 L241.30,462.60 L241.55,462.39 L241.80,462.06 L242.05,461.61 L242.30,461.07 L242.55,460.45 L242.80,459.78 L243.05,458.92 L243.30,457.76 L243.55,456.38 L243.80,454.86 L244.05,453.20 L244.30,451.31 L244.55,449.07 L244.80,446.38 L245.05,443.04 L245.30,437.54 L245.55,430.88 L245.80,424.67 L246.05,418.25 L246.30,411.06 L246.55,402.58 L246.80,389.34 L247.05,371.02 L247.30,352.27 L247.55,337.71 L247.80,326.56 L248.05,316.86 L248.30,308.12 L248.55,299.88 L248.80,291.66 L249.05,282.98 L249.30,273.36 L249.55,262.25 L249.80,249.45 L250.05,235.93 L250.30,222.73 L250.55,210.91 L250.80,200.63 L251.05,191.05 L251.30,182.99 L251.55,176.92 L251.80,171.69 L252.05,167.43 L252.30,164.43 L252.55,162.31 L252.80,160.55 L253.05,159.22 L253.30,158.39 L253.55,157.89 L253.80,157.48 L254.05,157.14 L254.30,156.87 L254.55,156.63 L254.80,156.42 L255.05,156.22 L255.30,156.04 L255.55,155.87 L255.80,155.72 L256.05,155.58 L256.30,155.45 L256.55,155.33 L256.80,155.20 L257.05,155.08 L257.30,154.95 L257.55,154.81 L257.80,154.67 L258.05,154.54 L258.30,154.41 L258.55,154.28 L258.80,154.15 L259.05,154.02 L259.30,153.87 L259.55,153.72 L259.80,153.56 L260.05,153.38 L260.30,153.18 L260.55,152.96 L260.80,152.71 L261.05,152.45 L261.30,152.18 L261.55,151.91 L261.80,151.63 L262.05,151.37 L262.30,151.12 L262.55,150.89 L262.80,150.65 L263.05,150.40 L263.30,150.14 L263.55,149.88 L263.80,149.61 L264.05,149.34 L264.30,149.07 L264.55,148.82 L264.80,148.57 L265.05,148.33 L265.30,148.12 L265.55,147.92 L265.80,147.75 L266.05,147.61 L266.30,147.50 L266.55,147.43 L266.80,147.39 L267.05,147.39 L267.30,147.44 L267.55,147.51 L267.80,147.62 L268.05,147.75 L268.30,147.90 L268.55,148.07 L268.80,148.26 L269.05,148.45 L269.30,148.64 L269.55,148.83 L269.80,149.02 L270.05,149.20 L270.30,149.40 L270.55,149.65 L270.80,149.93 L271.05,150.22 L271.30,150.50 L271.55,150.76 L271.80,150.98 L272.05,151.15 L272.30,151.26 L272.55,151.29 L272.80,151.27 L273.05,151.21 L273.30,151.13 L273.55,151.03 L273.80,150.91 L274.05,150.77 L274.30,150.61 L274.55,150.45 L274.80,150.29 L275.05,150.12 L275.30,149.95 L275.55,149.79 L275.80,149.63 L276.05,149.49 L276.30,149.33 L276.55,149.16 L276.80,148.97 L277.05,148.77 L277.30,148.57 L277.55,148.36 L277.80,148.15 L278.05,147.95 L278.30,147.76 L278.55,147.59 L278.80,147.43 L279.05,147.29 L279.30,147.18 L279.55,147.09 L279.80,147.04 L280.05,147.03 L280.30,147.05 L280.55,147.09 L280.80,147.16 L281.05,147.24 L281.30,147.33 L281.55,147.44 L281.80,147.55 L282.05,147.67 L282.30,147.79 L282.55,147.90 L282.80,148.01 L283.05,148.11 L283.30,148.23 L283.55,148.35 L283.80,148.49 L284.05,148.63 L284.30,148.78 L284.55,148.92 L284.80,149.06 L285.05,149.19 L285.30,149.30 L285.55,149.39 L285.80,149.46 L286.05,149.50 L286.30,149.51 L286.55,149.49 L286.80,149.42 L287.05,149.32 L287.30,149.20 L287.55,149.05 L287.80,148.88 L288.05,148.71 L288.30,148.53 L288.55,148.35 L288.80,148.17 L289.05,148.00 L289.30,147.85 L289.55,147.71 L289.80,147.58 L290.05,147.43 L290.30,147.27 L290.55,147.12 L290.80,146.96 L291.05,146.81 L291.30,146.67 L291.55,146.55 L291.80,146.45 L292.05,146.38 L292.30,146.33 L292.55,146.32 L292.80,146.36 L293.05,146.45 L293.30,146.58 L293.55,146.76 L293.80,146.96 L294.05,147.19 L294.30,147.44 L294.55,147.70 L294.80,147.97 L295.05,148.24 L295.30,148.50 L295.55,148.76 L295.80,148.99 L296.05,149.20 L296.30,149.42 L296.55,149.65 L296.80,149.90 L297.05,150.16 L297.30,150.43 L297.55,150.70 L297.80,150.96 L298.05,151.21 L298.30,151.45 L298.55,151.67 L298.80,151.87 L299.05,152.04 L299.30,152.18 L299.55,152.28 L299.80,152.34 L300.05,152.35 L300.30,152.33 L300.55,152.27 L300.80,152.18 L301.05,152.07 L301.30,151.93 L301.55,151.77 L301.80,151.59 L302.05,151.41 L302.30,151.21 L302.55,151.00 L302.80,150.80 L303.05,150.59 L303.30,150.39 L303.55,150.19 L303.80,150.01 L304.05,149.84 L304.30,149.65 L304.55,149.45 L304.80,149.24 L305.05,149.01 L305.30,148.77 L305.55,148.54 L305.80,148.30 L306.05,148.07 L306.30,147.86 L306.55,147.66 L306.80,147.48 L307.05,147.32 L307.30,147.19 L307.55,147.10 L307.80,147.04 L308.05,147.03 L308.30,147.05 L308.55,147.11 L308.80,147.18 L309.05,147.29 L309.30,147.41 L309.55,147.56 L309.80,147.72 L310.05,147.90 L310.30,148.09 L310.55,148.29 L310.80,148.49 L311.05,148.70 L311.30,148.91 L311.55,149.12 L311.80,149.33 L312.05,149.53 L312.30,149.72 L312.55,149.91 L312.80,150.10 L313.05,150.32 L313.30,150.56 L313.55,150.81 L313.80,151.07 L314.05,151.34 L314.30,151.61 L314.55,151.88 L314.80,152.14 L315.05,152.38 L315.30,152.62 L315.55,152.83 L315.80,153.01 L316.05,153.17 L316.30,153.29 L316.55,153.37 L316.80,153.42 L317.05,153.41 L317.30,153.34 L317.55,153.22 L317.80,153.06 L318.05,152.85 L318.30,152.60 L318.55,152.32 L318.80,152.02 L319.05,151.70 L319.30,151.36 L319.55,151.02 L319.80,150.67 L320.05,150.33 L320.30,150.00 L320.55,149.68 L320.80,149.38 L321.05,149.11 L321.30,148.82 L321.55,148.51 L321.80,148.18 L322.05,147.83 L322.30,147.48 L322.55,147.13 L322.80,146.78 L323.05,146.44 L323.30,146.12 L323.55,145.82 L323.80,145.56 L324.05,145.33 L324.30,145.14 L324.55,145.00 L324.80,144.92 L325.05,144.90 L325.30,144.92 L325.55,144.98 L325.80,145.06 L326.05,145.16 L326.30,145.28 L326.55,145.42 L326.80,145.57 L327.05,145.73 L327.30,145.90 L327.55,146.07 L327.80,146.24 L328.05,146.40 L328.30,146.56 L328.55,146.70 L328.80,146.86 L329.05,147.04 L329.30,147.24 L329.55,147.44 L329.80,147.65 L330.05,147.86 L330.30,148.06 L330.55,148.25 L330.80,148.42 L331.05,148.56 L331.30,148.68 L331.55,148.76 L331.80,148.80 L332.05,148.80 L332.30,148.75 L332.55,148.66 L332.80,148.54 L333.05,148.39 L333.30,148.22 L333.55,148.04 L333.80,147.85 L334.05,147.66 L334.30,147.47 L334.55,147.30 L334.80,147.14 L335.05,147.00 L335.30,146.87 L335.55,146.72 L335.80,146.57 L336.05,146.42 L336.30,146.27 L336.55,146.12 L336.80,145.99 L337.05,145.87 L337.30,145.77 L337.55,145.69 L337.80,145.63 L338.05,145.61 L338.30,145.61 L338.55,145.63 L338.80,145.66 L339.05,145.71 L339.30,145.76 L339.55,145.81 L339.80,145.88 L340.05,145.94 L340.30,146.01 L340.55,146.08 L340.80,146.15 L341.05,146.22 L341.30,146.28 L341.55,146.33 L341.80,146.38 L342.05,146.42 L342.30,146.45 L342.55,146.48 L342.80,146.51 L343.05,146.55 L343.30,146.58 L343.55,146.62 L343.80,146.67 L344.05,146.72 L344.30,146.78 L344.55,146.86 L344.80,146.95 L345.05,147.06 L345.30,147.33 L345.55,147.85 L345.80,148.59 L346.05,149.55 L346.30,150.91 L346.55,154.04 L346.80,158.35 L347.05,163.09 L347.30,168.89 L347.55,175.56 L347.80,182.76 L348.05,190.18 L348.30,197.53 L348.55,205.02 L348.80,212.86 L349.05,221.17 L349.30,230.10 L349.55,239.89 L349.80,250.66 L350.05,262.36 L350.30,276.09 L350.55,291.28 L350.80,306.51 L351.05,320.36 L351.30,331.47 L351.55,340.56 L351.80,348.62 L352.05,355.98 L352.30,362.98 L352.55,369.95 L352.80,376.72 L353.05,383.19 L353.30,389.46 L353.55,395.61 L353.80,401.74 L354.05,408.06 L354.30,414.11 L354.55,419.16 L354.80,423.36 L355.05,427.02 L355.30,430.22 L355.55,433.14 L355.80,435.82 L356.05,438.20 L356.30,440.26 L356.55,442.03 L356.80,443.61 L357.05,445.04 L357.30,446.36 L357.55,447.61 L357.80,448.83 L358.05,450.02 L358.30,451.15 L358.55,452.20 L358.80,453.17 L359.05,454.01 L359.30,454.74 L359.55,455.40 L359.80,456.02 L360.05,456.60 L360.30,457.13 L360.55,457.62 L360.80,458.06 L361.05,458.45 L361.30,458.78 L361.55,459.09 L361.80,459.38 L362.05,459.65 L362.30,459.90 L362.55,460.14 L362.80,460.36 L363.05,460.56 L363.30,460.75 L363.55,460.93 L363.80,461.09 L364.05,461.23 L364.30,461.37 L364.55,461.51 L364.80,461.64 L365.05,461.77 L365.30,461.89 L365.55,462.00 L365.80,462.11 L366.05,462.21 L366.30,462.31 L366.55,462.39 L366.80,462.47 L367.05,462.53 L367.30,462.59 L367.55,462.63 L367.80,462.67 L368.05,462.71 L368.30,462.75 L368.55,462.79 L368.80,462.82 L369.05,462.86 L369.30,462.89 L369.55,462.93 L369.80,462.96 L370.05,462.99 L370.30,463.02 L370.55,463.04 L370.80,463.07 L371.05,463.09 L371.30,463.12 L371.55,463.14 L371.80,463.16 L372.05,463.18 L372.30,463.20 L372.55,463.22 L372.80,463.24 L373.05,463.25 L373.30,463.27 L373.55,463.28 L373.80,463.29 L374.05,463.30 L374.30,463.31 L374.55,463.32 L374.80,463.33 L375.05,463.34 L375.30,463.34 L375.55,463.35 L375.80,463.35 L376.05,463.36 L376.30,463.36 L376.55,463.37 L376.80,463.37 L377.05,463.38 L377.30,463.38 L377.55,463.39 L377.80,463.39 L378.05,463.40 L378.30,463.40 L378.55,463.41 L378.80,463.41 L379.05,463.42 L379.30,463.42 L379.55,463.42 L379.80,463.43 L380.05,463.43 L380.30,463.44 L380.55,463.44 L380.80,463.44 L381.05,463.45 L381.30,463.45 L381.55,463.45 L381.80,463.46 L382.05,463.46 L382.30,463.46 L382.55,463.47 L382.80,463.47 L383.05,463.47 L383.30,463.48 L383.55,463.48 L383.80,463.48 L384.05,463.48 L384.30,463.49 L384.55,463.49 L384.80,463.49 L385.05,463.49 L385.30,463.49 L385.55,463.50 L385.80,463.50 L386.05,463.50 L386.30,463.50 L386.55,463.50 L386.80,463.50 L387.05,463.51 L387.30,463.51 L387.55,463.51 L387.80,463.51 L388.05,463.51 L388.30,463.51 L388.55,463.51 L388.80,463.51 L389.05,463.51 L389.30,463.51 L389.55,463.51 L389.80,463.51 L390.05,463.51 L390.30,463.51 L390.55,463.51 L390.80,463.51 L391.05,463.51 L391.30,463.51 L391.55,463.51 L391.80,463.51 L392.05,463.51 L392.30,463.51 L392.55,463.51 L392.80,463.51 L393.05,463.51 L393.30,463.51 L393.55,463.51 L393.80,463.51 L394.05,463.51 L394.30,463.51 L394.55,463.51 L394.80,463.51 L395.05,463.51 L395.30,463.51 L395.55,463.51 L395.80,463.51 L396.05,463.51 L396.30,463.51 L396.55,463.51 L396.80,463.51 L397.05,463.51 L397.30,463.51 L397.55,463.51 L397.80,463.51 L398.05,463.51 L398.30,463.51 L398.55,463.51 L398.80,463.51 L399.05,463.51 L399.30,463.51 L399.55,463.51 L399.80,463.51 L400.05,463.51 L400.30,463.51 L400.55,463.51 L400.80,463.51 L401.05,463.51 L401.30,463.51 L401.55,463.51 L401.80,463.51 L402.05,463.51 L402.30,463.51 L402.55,463.51 L402.80,463.51 L403.05,463.51 L403.30,463.51 L403.55,463.51 L403.80,463.51 L404.05,463.51 L404.30,463.51 L404.55,463.51 L404.80,463.51 L405.05,463.51 L405.30,463.51 L405.55,463.51 L405.80,463.51 L406.05,463.51 L406.30,463.51 L406.55,463.51 L406.80,463.51 L407.05,463.51 L407.30,463.51 L407.55,463.51 L407.80,463.51 L408.05,463.51 L408.30,463.51 L408.55,463.51 L408.80,463.51 L409.05,463.51 L409.30,463.51 L409.55,463.51 L409.80,463.51 L410.05,463.51 L410.30,463.51 L410.55,463.51 L410.80,463.51 L411.05,463.51 L411.30,463.51 L411.55,463.51 L411.80,463.51 L412.05,463.51 L412.30,463.51 L412.55,463.51 L412.80,463.51 L413.05,463.51 L413.30,463.51 L413.55,463.51 L413.80,463.51 L414.05,463.51 L414.30,463.51 L414.55,463.51 L414.80,463.51 L415.05,463.51 L415.30,463.51 L415.55,463.51 L415.80,463.51 L416.05,463.51 L416.30,463.51 L416.55,463.51 L416.80,463.51 L417.05,463.51 L417.30,463.51 L417.55,463.51 L417.80,463.51 L418.05,463.51 L418.30,463.51 L418.55,463.51 L418.80,463.51 L419.05,463.51 L419.30,463.51 L419.55,463.51 L419.80,463.51 L420.05,463.51 L420.30,463.51 L420.55,463.51 L420.80,463.51 L421.05,463.51 L421.30,463.51 L421.55,463.51 L421.80,463.51 L422.05,463.51 L422.30,463.51 L422.55,463.51 L422.80,463.51 L423.05,463.51 L423.30,463.51 L423.55,463.51 L423.80,463.51 L424.05,463.51 L424.30,463.51 L424.55,463.51 L424.80,463.51 L425.05,463.51 L425.30,463.51 L425.55,463.51 L425.80,463.51 L426.05,463.51 L426.30,463.51 L426.55,463.51 L426.80,463.51 L427.05,463.51 L427.30,463.51 L427.55,463.51 L427.80,463.51 L428.05,463.51 L428.30,463.51 L428.55,463.51 L428.80,463.51 L429.05,463.51 L429.30,463.51 L429.55,463.51 L429.80,463.51 L430.05,463.51 L430.30,463.51 L430.55,463.51 L430.80,463.51 L431.05,463.51 L431.30,463.51 L431.55,463.51 L431.80,463.51 L432.05,463.51 L432.30,463.51 L432.55,463.51 L432.80,463.51 L433.05,463.51 L433.30,463.51 L433.55,463.51 L433.80,463.51 L434.05,463.51 L434.30,463.51 L434.55,463.51 L434.80,463.51 L435.05,463.51 L435.30,463.51 L435.55,463.51 L435.80,463.51 L436.05,463.51 L436.30,463.51 L436.55,463.51 L436.80,463.51 L437.05,463.51 L437.30,463.51 L437.55,463.51 L437.80,463.51 L438.05,463.51 L438.30,463.51 L438.55,463.51 L438.80,463.51 L439.05,463.51 L439.30,463.51 L439.55,463.51 L439.80,463.51 L440.05,463.51 L440.30,463.51 L440.55,463.51 L440.80,463.51 L441.05,463.51 L441.30,463.51 L441.55,463.51 L441.80,463.51 L442.05,463.51 L442.30,463.51 L442.55,463.51 L442.80,463.51 L443.05,463.51 L443.30,463.51 L443.55,463.51 L443.80,463.51 L444.05,463.51 L444.30,463.51 L444.55,463.51 L444.80,463.51 L445.05,463.51 L445.30,463.51 L445.55,463.51 L445.80,463.51 L446.05,463.51 L446.30,463.51 L446.55,463.51 L446.80,463.51 L447.05,463.51 L447.30,463.51 L447.55,463.51 L447.80,463.51 L448.05,463.51 L448.30,463.51 L448.55,463.51 L448.80,463.51 L449.05,463.51 L449.30,463.51 L449.55,463.51 L449.80,463.51 L450.05,463.51 L450.30,463.51 L450.55,463.51 L450.80,463.51 L451.05,463.51 L451.30,463.51 L451.55,463.51 L451.80,463.51 L452.05,463.51 L452.30,463.51 L452.55,463.51 L452.80,463.51 L453.05,463.51 L453.30,463.51 L453.55,463.51 L453.80,463.51 L454.05,463.51 L454.30,463.51 L454.55,463.51 L454.80,463.51 L455.05,463.51 L455.30,463.51 L455.55,463.51 L455.80,463.51 L456.05,463.51 L456.30,463.51 L456.55,463.51 L456.80,463.51 L457.05,463.51 L457.30,463.51 L457.55,463.51 L457.80,463.51 L458.05,463.51 L458.30,463.51 L458.55,463.51 L458.80,463.51 L459.05,463.51 L459.30,463.51 L459.55,463.51 L459.80,463.51 L460.05,463.51 L460.30,463.51 L460.55,463.51 L460.80,463.51 L461.05,463.51 L461.30,463.51 L461.55,463.51 L461.80,463.51 L462.05,463.51 L462.30,463.51 L462.55,463.51 L462.80,463.51 L463.05,463.51 L463.30,463.51 L463.55,463.51 L463.80,463.51 L464.05,463.51 L464.30,463.51 L464.55,463.51 L464.80,463.51 L465.05,463.51 L465.30,463.51 L465.55,463.51 L465.80,463.51 L466.05,463.51 L466.30,463.51 L466.55,463.51 L466.80,463.51 L467.05,463.51 L467.30,463.51 L467.55,463.51 L467.80,463.51 L468.05,463.51 L468.30,463.51 L468.55,463.51 L468.80,463.51 L469.05,463.51 L469.30,463.51 L469.55,463.51 L469.80,463.51 L470.05,463.51 L470.30,463.51 L470.55,463.51 L470.80,463.51 L471.05,463.51 L471.30,463.51 L471.55,463.51 L471.80,463.51 L472.05,463.51 L472.30,463.51 L472.55,463.51 L472.80,463.51 L473.05,463.51 L473.30,463.51 L473.55,463.51 L473.80,463.51 L474.05,463.51 L474.30,463.51 L474.55,463.51 L474.80,463.51 L475.05,463.51 L475.30,463.51 L475.55,463.51 L475.80,463.51 L476.05,463.51 L476.30,463.51 L476.55,463.51 L476.80,463.51 L477.05,463.51 L477.30,463.51 L477.55,463.51 L477.80,463.51 L478.05,463.51 L478.30,463.51 L478.55,463.51 L478.80,463.51 L479.05,463.51 L479.30,463.51 L479.55,463.51 L479.80,463.51 L480.05,463.51 L480.30,463.51 L480.55,463.51 L480.80,463.51 L481.05,463.51 L481.30,463.51 L481.55,463.51 L481.80,463.51 L482.05,463.51 L482.30,463.51 L482.55,463.51 L482.80,463.51 L483.05,463.51 L483.30,463.51 L483.55,463.51 L483.80,463.51 L484.05,463.51 L484.30,463.51 L484.55,463.51 L484.80,463.51 L485.05,463.51 L485.30,463.51 L485.55,463.51 L485.80,463.51 L486.05,463.51 L486.30,463.51 L486.55,463.51 L486.80,463.51 L487.05,463.51 L487.30,463.51 L487.55,463.51 L487.80,463.51 L488.05,463.51 L488.30,463.51 L488.55,463.51 L488.80,463.51 L489.05,463.51 L489.30,463.51 L489.55,463.51 L489.80,463.51 L490.05,463.51 L490.30,463.51 L490.55,463.51 L490.80,463.51 L491.05,463.51 L491.30,463.51 L491.55,463.51 L491.80,463.51 L492.05,463.51 L492.30,463.51 L492.55,463.51 L492.80,463.51 L493.05,463.51 L493.30,463.51 L493.55,463.51 L493.80,463.51 L494.05,463.51 L494.30,463.51 L494.55,463.51 L494.80,463.51 L495.05,463.51 L495.30,463.51 L495.55,463.51 L495.80,463.51 L496.05,463.51 L496.30,463.51 L496.55,463.51 L496.80,463.51 L497.05,463.51 L497.30,463.51 L497.55,463.51 L497.80,463.51 L498.05,463.51 L498.30,463.51 L498.55,463.51 L498.80,463.51 L499.05,463.51 L499.30,463.51 L499.55,463.51 L499.80,463.51 L500.05,463.51 L500.30,463.51 L500.55,463.51 L500.80,463.51 L501.05,463.51 L501.30,463.51 L501.55,463.51 L501.80,463.51 L502.05,463.51 L502.30,463.51 L502.55,463.51 L502.80,463.51 L503.05,463.51 L503.30,463.51 L503.55,463.51 L503.80,463.51 L504.05,463.51 L504.30,463.51 L504.55,463.51 L504.80,463.51 L505.05,463.51 L505.30,463.51 L505.55,463.51 L505.80,463.51 L506.05,463.51 L506.30,463.51 L506.55,463.51 L506.80,463.51 L507.05,463.51 L507.30,463.51 L507.55,463.51 L507.80,463.51 L508.05,463.51 L508.30,463.51 L508.55,463.51 L508.80,463.51 L509.05,463.51 L509.30,463.51 L509.55,463.51 L509.80,463.51 L510.05,463.51 L510.30,463.51 L510.55,463.51 L510.80,463.51 L511.05,463.51 L511.30,463.51 L511.55,463.51 L511.80,463.51 L512.05,463.51 L512.30,463.51 L512.55,463.51 L512.80,463.51 L513.05,463.51 L513.30,463.51 L513.55,463.51 L513.80,463.51 L514.05,463.51 L514.30,463.51 L514.55,463.51 L514.80,463.51 L515.05,463.51 L515.30,463.51 L515.55,463.51 L515.80,463.51 L516.05,463.51 L516.30,463.51 L516.55,463.51 L516.80,463.51 L517.05,463.51 L517.30,463.51 L517.55,463.51 L517.80,463.51 L518.05,463.51 L518.30,463.51 L518.55,463.51 L518.80,463.51 L519.05,463.51 L519.30,463.51 L519.55,463.51 L519.80,463.51 L520.05,463.51 L520.30,463.51 L520.55,463.51 L520.80,463.51 L521.05,463.51 L521.30,463.51 L521.55,463.51 L521.80,463.51 L522.05,463.51 L522.30,463.51 L522.55,463.51 L522.80,463.51 L523.05,463.51 L523.30,463.51 L523.55,463.51 L523.80,463.51 L524.05,463.51 L524.30,463.51 L524.55,463.51 L524.80,463.51 L525.05,463.51 L525.30,463.51 L525.55,463.51 L525.80,463.51 L526.05,463.51 L526.30,463.51 L526.55,463.51 L526.80,463.51 L527.05,463.51 L527.30,463.51 L527.55,463.51 L527.80,463.51 L528.05,463.51 L528.30,463.51 L528.55,463.51 L528.80,463.51 L529.05,463.51 L529.30,463.51 L529.55,463.51 L529.80,463.51 L530.05,463.51 L530.30,463.51 L530.55,463.51 L530.80,463.51 L531.05,463.51 L531.30,463.51 L531.55,463.51 L531.80,463.51 L532.05,463.51 L532.30,463.51 L532.55,463.51 L532.80,463.51 L533.05,463.51 L533.30,463.51 L533.55,463.51 L533.80,463.51 L534.05,463.51 L534.30,463.51 L534.55,463.51 L534.80,463.51 L535.05,463.51 L535.30,463.51 L535.55,463.51 L535.80,463.51 L536.05,463.51 L536.30,463.51 L536.55,463.51 L536.80,463.51 L537.05,463.51 L537.30,463.51 L537.55,463.51 L537.80,463.51 L538.05,463.51 L538.30,463.51 L538.55,463.51 L538.80,463.51 L539.05,463.51 L539.30,463.51 L539.55,463.51 L539.80,463.51 L540.05,463.51 L540.30,463.51 L540.55,463.51 L540.80,463.51 L541.05,463.51 L541.30,463.51 L541.55,463.51 L541.80,463.51 L542.05,463.51 L542.30,463.51 L542.55,463.51 L542.80,463.50 L543.05,463.50 L543.30,463.50 L543.55,463.50 L543.80,463.50 L544.05,463.50 L544.30,463.49 L544.55,463.49 L544.80,463.49 L545.05,463.49 L545.30,463.48 L545.55,463.48 L545.80,463.48 L546.05,463.48 L546.30,463.47 L546.55,463.47 L546.80,463.47 L547.05,463.46 L547.30,463.46 L547.55,463.46 L547.80,463.45 L548.05,463.45 L548.30,463.44 L548.55,463.44 L548.80,463.44 L549.05,463.43 L549.30,463.43 L549.55,463.42 L549.80,463.42 L550.05,463.41 L550.30,463.41 L550.55,463.40 L550.80,463.40 L551.05,463.39 L551.30,463.39 L551.55,463.38 L551.80,463.38 L552.05,463.37 L552.30,463.37 L552.55,463.36 L552.80,463.36 L553.05,463.35 L553.30,463.34 L553.55,463.34 L553.80,463.33 L554.05,463.33 L554.30,463.32 L554.55,463.31 L554.80,463.31 L555.05,463.30 L555.30,463.29 L555.55,463.29 L555.80,463.28 L556.05,463.27 L556.30,463.27 L556.55,463.26 L556.80,463.25 L557.05,463.25 L557.30,463.24 L557.55,463.23 L557.80,463.23 L558.05,463.22 L558.30,463.21 L558.55,463.20 L558.80,463.20 L559.05,463.19 L559.30,463.18 L559.55,463.17 L559.80,463.16 L560.05,463.16 L560.30,463.15 L560.55,463.14 L560.80,463.13 L561.05,463.11 L561.30,463.10 L561.55,463.08 L561.80,463.07 L562.05,463.05 L562.30,463.03 L562.55,463.01 L562.80,462.99 L563.05,462.97 L563.30,462.95 L563.55,462.93 L563.80,462.91 L564.05,462.88 L564.30,462.86 L564.55,462.83 L564.80,462.81 L565.05,462.78 L565.30,462.76 L565.55,462.73 L565.80,462.71 L566.05,462.68 L566.30,462.65 L566.55,462.62 L566.80,462.60 L567.05,462.57 L567.30,462.54 L567.55,462.52 L567.80,462.49 L568.05,462.46 L568.30,462.44 L568.55,462.41 L568.80,462.39 L569.05,462.36 L569.30,462.34 L569.55,462.31 L569.80,462.29 L570.05,462.27 L570.30,462.24 L570.55,462.22 L570.80,462.19 L571.05,462.16 L571.30,462.13 L571.55,462.10 L571.80,462.07 L572.05,462.04 L572.30,462.01 L572.55,461.98 L572.80,461.95 L573.05,461.91 L573.30,461.88 L573.55,461.85 L573.80,461.82 L574.05,461.79 L574.30,461.77 L574.55,461.74 L574.80,461.71 L575.05,461.69 L575.30,461.67 L575.55,461.64 L575.80,461.63 L576.05,461.61 L576.30,461.59 L576.55,461.58 L576.80,461.57 L577.05,461.57 L577.30,461.56 L577.55,461.56 L577.80,461.56 L578.05,461.57 L578.30,461.58 L578.55,461.59 L578.80,461.60 L579.05,461.62 L579.30,461.64 L579.55,461.66 L579.80,461.68 L580.05,461.70 L580.30,461.73 L580.55,461.75 L580.80,461.78 L581.05,461.80 L581.30,461.83 L581.55,461.86 L581.80,461.88 L582.05,461.91 L582.30,461.94 L582.55,461.96 L582.80,461.98 L583.05,462.00 L583.30,462.02 L583.55,462.04 L583.80,462.06 L584.05,462.07 L584.30,462.08 L584.55,462.09 L584.80,462.09 L585.05,462.09 L585.30,462.09 L585.55,462.09 L585.80,462.09 L586.05,462.09 L586.30,462.09 L586.55,462.09 L586.80,462.08 L587.05,462.08 L587.30,462.08 L587.55,462.08 L587.80,462.07 L588.05,462.07 L588.30,462.07 L588.55,462.06 L588.80,462.06 L589.05,462.06 L589.30,462.05 L589.55,462.05 L589.80,462.04 L590.05,462.04 L590.30,462.03 L590.55,462.03 L590.80,462.02 L591.05,462.02 L591.30,462.01 L591.55,462.01 L591.80,462.00 L592.05,461.99 L592.30,461.99 L592.55,461.98 L592.80,461.98 L593.05,461.97 L593.30,461.96 L593.55,461.96 L593.80,461.95 L594.05,461.94 L594.30,461.93 L594.55,461.93 L594.80,461.92 L595.05,461.91 L595.30,461.91 L595.55,461.90 L595.80,461.89 L596.05,461.88 L596.30,461.87 L596.55,461.86 L596.80,461.85 L597.05,461.83 L597.30,461.82 L597.55,461.81 L597.80,461.79 L598.05,461.78 L598.30,461.76 L598.55,461.75 L598.80,461.73 L599.05,461.72 L599.30,461.70 L599.55,461.68 L599.80,461.66 L600.05,461.64 L600.30,461.63 L600.55,461.61 L600.80,461.59 L601.05,461.57 L601.30,461.55 L601.55,461.52 L601.80,461.50 L602.05,461.48 L602.30,461.46 L602.55,461.44 L602.80,461.41 L603.05,461.39 L603.30,461.37 L603.55,461.35 L603.80,461.32 L604.05,461.30 L604.30,461.27 L604.55,461.25 L604.80,461.22 L605.05,461.20 L605.30,461.17 L605.55,461.14 L605.80,461.11 L606.05,461.08 L606.30,461.04 L606.55,461.00 L606.80,460.96 L607.05,460.92 L607.30,460.88 L607.55,460.84 L607.80,460.80 L608.05,460.75 L608.30,460.71 L608.55,460.67 L608.80,460.63 L609.05,460.58 L609.30,460.54 L609.55,460.51 L609.80,460.47 L610.05,460.43 L610.30,460.40 L610.55,460.37 L610.80,460.34 L611.05,460.31 L611.30,460.29 L611.55,460.26 L611.80,460.23 L612.05,460.21 L612.30,460.18 L612.55,460.16 L612.80,460.13 L613.05,460.11 L613.30,460.08 L613.55,460.06 L613.80,460.04 L614.05,460.02 L614.30,460.01 L614.55,459.99 L614.80,459.98 L615.05,459.97 L615.30,459.97 L615.55,459.96 L615.80,459.96 L616.05,459.97 L616.30,459.99 L616.55,460.00 L616.80,460.03 L617.05,460.05 L617.30,460.09 L617.55,460.12 L617.80,460.15 L618.05,460.19 L618.30,460.23 L618.55,460.27 L618.80,460.31 L619.05,460.35 L619.30,460.39 L619.55,460.43 L619.80,460.47 L620.05,460.50 L620.30,460.54 L620.55,460.57 L620.80,460.61 L621.05,460.65 L621.30,460.68 L621.55,460.72 L621.80,460.76 L622.05,460.80 L622.30,460.84 L622.55,460.88 L622.80,460.93 L623.05,460.97 L623.30,461.01 L623.55,461.05 L623.80,461.09 L624.05,461.14 L624.30,461.18 L624.55,461.22 L624.80,461.26 L625.05,461.30 L625.30,461.34 L625.55,461.39 L625.80,461.43 L626.05,461.46 L626.30,461.50 L626.55,461.54 L626.80,461.58 L627.05,461.61 L627.30,461.65 L627.55,461.68 L627.80,461.71 L628.05,461.74 L628.30,461.77 L628.55,461.81 L628.80,461.84 L629.05,461.87 L629.30,461.90 L629.55,461.93 L629.80,461.96 L630.05,461.99 L630.30,462.02 L630.55,462.05 L630.80,462.08 L631.05,462.11 L631.30,462.14 L631.55,462.17 L631.80,462.20 L632.05,462.23 L632.30,462.25 L632.55,462.28 L632.80,462.30 L633.05,462.32 L633.30,462.34 L633.55,462.36 L633.80,462.38 L634.05,462.40 L634.30,462.41 L634.55,462.43 L634.80,462.44 L635.05,462.45 L635.30,462.46 L635.55,462.47 L635.80,462.48 L636.05,462.49 L636.30,462.50 L636.55,462.50 L636.80,462.51 L637.05,462.52 L637.30,462.53 L637.55,462.54 L637.80,462.55 L638.05,462.55 L638.30,462.56 L638.55,462.57 L638.80,462.57 L639.05,462.58 L639.30,462.59 L639.55,462.59 L639.80,462.60 L640.05,462.60 L640.30,462.61 L640.55,462.61 L640.80,462.61 L641.05,462.62 L641.30,462.62 L641.55,462.62 L641.80,462.62 L642.05,462.62 L642.30,462.62 L642.55,462.62 L642.80,462.62 L643.05,462.62 L643.30,462.62 L643.55,462.62 L643.80,462.61 L644.05,462.60 L644.30,462.60 L644.55,462.59 L644.80,462.58 L645.05,462.57 L645.30,462.56 L645.55,462.55 L645.80,462.54 L646.05,462.52 L646.30,462.51 L646.55,462.50 L646.80,462.48 L647.05,462.47 L647.30,462.45 L647.55,462.44 L647.80,462.42 L648.05,462.41 L648.30,462.39 L648.55,462.37 L648.80,462.35 L649.05,462.34 L649.30,462.32 L649.55,462.30 L649.80,462.28 L650.05,462.27 L650.30,462.25 L650.55,462.23 L650.80,462.21 L651.05,462.18 L651.30,462.16 L651.55,462.13 L651.80,462.10 L652.05,462.07 L652.30,462.04 L652.55,462.01 L652.80,461.98 L653.05,461.95 L653.30,461.91 L653.55,461.87 L653.80,461.84 L654.05,461.80 L654.30,461.76 L654.55,461.72 L654.80,461.68 L655.05,461.64 L655.30,461.60 L655.55,461.56 L655.80,461.51 L656.05,461.47 L656.30,461.42 L656.55,461.38 L656.80,461.33 L657.05,461.29 L657.30,461.24 L657.55,461.20 L657.80,461.15 L658.05,461.10 L658.30,461.05 L658.55,461.00 L658.80,460.94 L659.05,460.89 L659.30,460.83 L659.55,460.77 L659.80,460.71 L660.05,460.65 L660.30,460.59 L660.55,460.52 L660.80,460.45 L661.05,460.39 L661.30,460.31 L661.55,460.24 L661.80,460.17 L662.05,460.09 L662.30,460.01 L662.55,459.93 L662.80,459.85 L663.05,459.77 L663.30,459.68 L663.55,459.59 L663.80,459.50 L664.05,459.41 L664.30,459.31 L664.55,459.21 L664.80,459.11 L665.05,459.00 L665.30,458.89 L665.55,458.77 L665.80,458.65 L666.05,458.52 L666.30,458.38 L666.55,458.24 L666.80,458.10 L667.05,457.95 L667.30,457.79 L667.55,457.62 L667.80,457.44 L668.05,457.23 L668.30,457.01 L668.55,456.77 L668.80,456.51 L669.05,456.24 L669.30,455.95 L669.55,455.66 L669.80,455.35 L670.05,455.04 L670.30,454.72 L670.55,454.39 L670.80,454.05 L671.05,453.68 L671.30,453.29 L671.55,452.88 L671.80,452.46 L672.05,452.03 L672.30,451.59 L672.55,451.16 L672.80,450.72 L673.05,450.29 L673.30,449.87 L673.55,449.47 L673.80,449.08 L674.05,448.70 L674.30,448.30 L674.55,447.88 L674.80,447.44 L675.05,446.95 L675.30,446.41 L675.55,445.81 L675.80,445.09 L676.05,444.22 L676.30,443.26 L676.55,442.22 L676.80,441.13 L677.05,440.04 L677.30,438.96 L677.55,437.93 L677.80,436.94 L678.05,435.97 L678.30,435.01 L678.55,434.03 L678.80,433.03 L679.05,431.97 L679.30,430.86 L679.55,429.66 L679.80,428.37 L680.05,426.94 L680.30,425.39 L680.55,423.73 L680.80,421.98 L681.05,420.15 L681.30,418.25 L681.55,416.19 L681.80,413.91 L682.05,411.52 L682.30,409.12 L682.55,406.82 L682.80,404.72 L683.05,402.86 L683.30,401.15 L683.55,399.49 L683.80,397.76 L684.05,395.85 L684.30,393.64 L684.55,391.02 L684.80,388.03 L685.05,384.79 L685.30,381.37 L685.55,377.78 L685.80,373.74 L686.05,368.91 L686.30,362.57 L686.55,355.24 L686.80,347.80 L687.05,339.75 L687.30,331.71 L687.55,324.63 L687.80,318.18 L688.05,312.09 L688.30,306.60 L688.55,301.92 L688.80,297.97 L689.05,294.34 L689.30,291.28 L689.55,289.01 L689.80,287.44 L690.05,285.99 L690.30,284.73 L690.55,283.76 L690.80,283.16 L691.05,283.02 L691.30,283.92 L691.55,285.86 L691.80,288.55 L692.05,291.70 L692.30,295.00 L692.55,298.19 L692.80,301.89 L693.05,306.16 L693.30,310.54 L693.55,314.57 L693.80,317.84 L694.05,320.51 L694.30,323.17 L694.55,326.42 L694.80,331.00 L695.05,340.40 L695.30,351.59 L695.55,358.87 L695.80,362.83 L696.05,365.87 L696.30,368.72 L696.55,371.92 L696.80,375.10 L697.05,378.26 L697.30,381.45 L697.55,384.76 L697.80,388.24 L698.05,391.64 L698.30,394.68 L698.55,397.40 L698.80,399.92 L699.05,402.33 L699.30,404.70 L699.55,407.11 L699.80,409.58 L700.05,412.05 L700.30,414.51 L700.55,416.97 L700.80,419.42 L701.05,421.86 L701.30,424.29"/>
<path stroke="#98B954" d="M77.30,441.68 L77.55,442.60 L77.80,443.47 L78.05,444.29 L78.30,445.04 L78.55,445.72 L78.80,446.37 L79.05,447.01 L79.30,447.61 L79.55,448.13 L79.80,448.55 L80.05,448.83 L80.30,449.05 L80.55,449.25 L80.80,449.44 L81.05,449.61 L81.30,449.76 L81.55,449.87 L81.80,449.96 L82.05,450.01 L82.30,450.02 L82.55,449.97 L82.80,449.84 L83.05,449.66 L83.30,449.44 L83.55,449.18 L83.80,448.90 L84.05,448.60 L84.30,448.30 L84.55,448.01 L84.80,447.69 L85.05,447.32 L85.30,446.91 L85.55,446.48 L85.80,446.05 L86.05,445.61 L86.30,445.19 L86.55,444.80 L86.80,444.44 L87.05,444.11 L87.30,443.78 L87.55,443.45 L87.80,443.08 L88.05,442.67 L88.30,442.19 L88.55,441.65 L88.80,441.03 L89.05,440.34 L89.30,439.55 L89.55,438.65 L89.80,437.48 L90.05,436.06 L90.30,434.50 L90.55,432.93 L90.80,431.46 L91.05,430.05 L91.30,428.65 L91.55,427.25 L91.80,425.84 L92.05,424.42 L92.30,422.98 L92.55,421.51 L92.80,420.14 L93.05,418.86 L93.30,417.55 L93.55,416.10 L93.80,414.40 L94.05,412.33 L94.30,409.47 L94.55,405.38 L94.80,400.50 L95.05,394.23 L95.30,386.94 L95.55,380.67 L95.80,375.16 L96.05,365.99 L96.30,343.70 L96.55,308.96 L96.80,282.80 L97.05,265.34 L97.30,255.32 L97.55,249.10 L97.80,245.01 L98.05,242.27 L98.30,240.22 L98.55,238.69 L98.80,237.32 L99.05,236.52 L99.30,237.18 L99.55,239.54 L99.80,243.27 L100.05,251.41 L100.30,265.88 L100.55,292.01 L100.80,324.66 L101.05,357.23 L101.30,370.61 L101.55,377.95 L101.80,386.46 L102.05,402.44 L102.30,411.89 L102.55,414.84 L102.80,416.81 L103.05,418.22 L103.30,419.46 L103.55,420.69 L103.80,421.85 L104.05,422.91 L104.30,423.80 L104.55,424.47 L104.80,424.89 L105.05,424.98 L105.30,424.65 L105.55,423.91 L105.80,422.84 L106.05,421.52 L106.30,420.02 L106.55,417.82 L106.80,414.48 L107.05,410.24 L107.30,404.48 L107.55,393.39 L107.80,368.88 L108.05,355.89 L108.30,348.15 L108.55,342.25 L108.80,338.74 L109.05,339.33 L109.30,343.93 L109.55,349.75 L109.80,354.97 L110.05,360.60 L110.30,366.75 L110.55,373.47 L110.80,380.14 L111.05,388.14 L111.30,400.13 L111.55,422.96 L111.80,441.61 L112.05,447.78 L112.30,451.64 L112.55,455.22 L112.80,458.39 L113.05,459.94 L113.30,460.61 L113.55,461.08 L113.80,461.39 L114.05,461.59 L114.30,461.75 L114.55,461.89 L114.80,462.02 L115.05,462.14 L115.30,462.24 L115.55,462.34 L115.80,462.42 L116.05,462.50 L116.30,462.56 L116.55,462.62 L116.80,462.68 L117.05,462.72 L117.30,462.77 L117.55,462.81 L117.80,462.85 L118.05,462.89 L118.30,462.93 L118.55,462.97 L118.80,463.00 L119.05,463.04 L119.30,463.07 L119.55,463.10 L119.80,463.13 L120.05,463.16 L120.30,463.18 L120.55,463.20 L120.80,463.22 L121.05,463.24 L121.30,463.25 L121.55,463.26 L121.80,463.26 L122.05,463.26 L122.30,463.26 L122.55,463.24 L122.80,463.22 L123.05,463.19 L123.30,463.15 L123.55,463.11 L123.80,463.07 L124.05,463.02 L124.30,462.97 L124.55,462.92 L124.80,462.88 L125.05,462.83 L125.30,462.78 L125.55,462.74 L125.80,462.71 L126.05,462.68 L126.30,462.65 L126.55,462.63 L126.80,462.63 L127.05,462.63 L127.30,462.64 L127.55,462.66 L127.80,462.68 L128.05,462.71 L128.30,462.75 L128.55,462.79 L128.80,462.84 L129.05,462.89 L129.30,462.94 L129.55,462.99 L129.80,463.04 L130.05,463.09 L130.30,463.14 L130.55,463.19 L130.80,463.23 L131.05,463.26 L131.30,463.29 L131.55,463.31 L131.80,463.33 L132.05,463.34 L132.30,463.34 L132.55,463.34 L132.80,463.35 L133.05,463.35 L133.30,463.35 L133.55,463.35 L133.80,463.36 L134.05,463.36 L134.30,463.36 L134.55,463.37 L134.80,463.37 L135.05,463.37 L135.30,463.37 L135.55,463.38 L135.80,463.38 L136.05,463.38 L136.30,463.38 L136.55,463.39 L136.80,463.39 L137.05,463.39 L137.30,463.39 L137.55,463.40 L137.80,463.40 L138.05,463.40 L138.30,463.40 L138.55,463.40 L138.80,463.41 L139.05,463.41 L139.30,463.41 L139.55,463.41 L139.80,463.41 L140.05,463.41 L140.30,463.42 L140.55,463.42 L140.80,463.42 L141.05,463.42 L141.30,463.42 L141.55,463.42 L141.80,463.42 L142.05,463.42 L142.30,463.43 L142.55,463.43 L142.80,463.43 L143.05,463.43 L143.30,463.43 L143.55,463.43 L143.80,463.43 L144.05,463.43 L144.30,463.43 L144.55,463.43 L144.80,463.43 L145.05,463.44 L145.30,463.44 L145.55,463.44 L145.80,463.44 L146.05,463.44 L146.30,463.44 L146.55,463.44 L146.80,463.44 L147.05,463.44 L147.30,463.44 L147.55,463.44 L147.80,463.44 L148.05,463.44 L148.30,463.44 L148.55,463.44 L148.80,463.44 L149.05,463.44 L149.30,463.44 L149.55,463.44 L149.80,463.44 L150.05,463.44 L150.30,463.44 L150.55,463.44 L150.80,463.44 L151.05,463.44 L151.30,463.44 L151.55,463.44 L151.80,463.44 L152.05,463.44 L152.30,463.44 L152.55,463.44 L152.80,463.44 L153.05,463.43 L153.30,463.43 L153.55,463.43 L153.80,463.43 L154.05,463.43 L154.30,463.43 L154.55,463.42 L154.80,463.42 L155.05,463.42 L155.30,463.42 L155.55,463.41 L155.80,463.41 L156.05,463.41 L156.30,463.40 L156.55,463.40 L156.80,463.40 L157.05,463.39 L157.30,463.39 L157.55,463.39 L157.80,463.38 L158.05,463.38 L158.30,463.37 L158.55,463.37 L158.80,463.36 L159.05,463.36 L159.30,463.35 L159.55,463.35 L159.80,463.34 L160.05,463.33 L160.30,463.32 L160.55,463.30 L160.80,463.27 L161.05,463.22 L161.30,463.17 L161.55,463.11 L161.80,463.04 L162.05,462.97 L162.30,462.88 L162.55,462.78 L162.80,462.57 L163.05,462.21 L163.30,461.75 L163.55,461.22 L163.80,460.64 L164.05,460.05 L164.30,459.49 L164.55,458.97 L164.80,458.40 L165.05,457.76 L165.30,457.08 L165.55,456.42 L165.80,455.83 L166.05,455.37 L166.30,455.07 L166.55,455.00 L166.80,455.19 L167.05,455.61 L167.30,456.20 L167.55,456.89 L167.80,457.63 L168.05,458.35 L168.30,459.00 L168.55,459.52 L168.80,460.02 L169.05,460.54 L169.30,461.05 L169.55,461.54 L169.80,461.98 L170.05,462.35 L170.30,462.63 L170.55,462.79 L170.80,462.85 L171.05,462.91 L171.30,462.96 L171.55,463.01 L171.80,463.06 L172.05,463.10 L172.30,463.14 L172.55,463.18 L172.80,463.21 L173.05,463.23 L173.30,463.26 L173.55,463.28 L173.80,463.30 L174.05,463.31 L174.30,463.32 L174.55,463.33 L174.80,463.33 L175.05,463.33 L175.30,463.33 L175.55,463.33 L175.80,463.33 L176.05,463.32 L176.30,463.32 L176.55,463.31 L176.80,463.31 L177.05,463.30 L177.30,463.29 L177.55,463.28 L177.80,463.27 L178.05,463.25 L178.30,463.24 L178.55,463.23 L178.80,463.21 L179.05,463.20 L179.30,463.18 L179.55,463.16 L179.80,463.15 L180.05,463.13 L180.30,463.11 L180.55,463.09 L180.80,463.07 L181.05,463.05 L181.30,463.02 L181.55,462.98 L181.80,462.94 L182.05,462.88 L182.30,462.82 L182.55,462.75 L182.80,462.68 L183.05,462.60 L183.30,462.52 L183.55,462.44 L183.80,462.35 L184.05,462.26 L184.30,462.17 L184.55,462.08 L184.80,461.99 L185.05,461.90 L185.30,461.80 L185.55,461.69 L185.80,461.57 L186.05,461.44 L186.30,461.31 L186.55,461.18 L186.80,461.04 L187.05,460.91 L187.30,460.79 L187.55,460.68 L187.80,460.57 L188.05,460.48 L188.30,460.39 L188.55,460.30 L188.80,460.22 L189.05,460.14 L189.30,460.06 L189.55,459.99 L189.80,459.93 L190.05,459.87 L190.30,459.82 L190.55,459.78 L190.80,459.74 L191.05,459.71 L191.30,459.68 L191.55,459.66 L191.80,459.64 L192.05,459.62 L192.30,459.60 L192.55,459.58 L192.80,459.56 L193.05,459.53 L193.30,459.51 L193.55,459.49 L193.80,459.46 L194.05,459.42 L194.30,459.38 L194.55,459.33 L194.80,459.27 L195.05,459.21 L195.30,459.14 L195.55,459.07 L195.80,458.99 L196.05,458.92 L196.30,458.84 L196.55,458.76 L196.80,458.69 L197.05,458.62 L197.30,458.56 L197.55,458.50 L197.80,458.45 L198.05,458.42 L198.30,458.39 L198.55,458.37 L198.80,458.37 L199.05,458.39 L199.30,458.46 L199.55,458.55 L199.80,458.67 L200.05,458.81 L200.30,458.97 L200.55,459.14 L200.80,459.32 L201.05,459.50 L201.30,459.68 L201.55,459.86 L201.80,460.02 L202.05,460.17 L202.30,460.32 L202.55,460.48 L202.80,460.65 L203.05,460.82 L203.30,461.00 L203.55,461.17 L203.80,461.33 L204.05,461.48 L204.30,461.62 L204.55,461.75 L204.80,461.85 L205.05,461.93 L205.30,462.00 L205.55,462.07 L205.80,462.14 L206.05,462.21 L206.30,462.28 L206.55,462.34 L206.80,462.40 L207.05,462.46 L207.30,462.52 L207.55,462.57 L207.80,462.63 L208.05,462.67 L208.30,462.72 L208.55,462.76 L208.80,462.80 L209.05,462.84 L209.30,462.87 L209.55,462.90 L209.80,462.93 L210.05,462.95 L210.30,462.96 L210.55,462.97 L210.80,462.98 L211.05,462.98 L211.30,462.98 L211.55,462.98 L211.80,462.98 L212.05,462.98 L212.30,462.98 L212.55,462.98 L212.80,462.98 L213.05,462.98 L213.30,462.98 L213.55,462.98 L213.80,462.98 L214.05,462.98 L214.30,462.98 L214.55,462.98 L214.80,462.98 L215.05,462.98 L215.30,462.98 L215.55,462.98 L215.80,462.98 L216.05,462.98 L216.30,462.98 L216.55,462.98 L216.80,462.98 L217.05,462.98 L217.30,462.98 L217.55,462.98 L217.80,462.98 L218.05,462.98 L218.30,462.98 L218.55,462.98 L218.80,462.97 L219.05,462.97 L219.30,462.96 L219.55,462.95 L219.80,462.94 L220.05,462.93 L220.30,462.92 L220.55,462.91 L220.80,462.89 L221.05,462.87 L221.30,462.86 L221.55,462.84 L221.80,462.82 L222.05,462.80 L222.30,462.78 L222.55,462.75 L222.80,462.73 L223.05,462.70 L223.30,462.68 L223.55,462.65 L223.80,462.62 L224.05,462.58 L224.30,462.52 L224.55,462.44 L224.80,462.35 L225.05,462.25 L225.30,462.14 L225.55,462.01 L225.80,461.88 L226.05,461.75 L226.30,461.61 L226.55,461.46 L226.80,461.32 L227.05,461.18 L227.30,461.03 L227.55,460.89 L227.80,460.73 L228.05,460.57 L228.30,460.40 L228.55,460.22 L228.80,460.02 L229.05,459.79 L229.30,459.55 L229.55,459.28 L229.80,458.98 L230.05,458.65 L230.30,458.21 L230.55,457.64 L230.80,456.96 L231.05,456.17 L231.30,455.29 L231.55,454.33 L231.80,453.30 L232.05,452.23 L232.30,451.11 L232.55,449.97 L232.80,448.66 L233.05,447.16 L233.30,445.50 L233.55,443.73 L233.80,441.89 L234.05,440.02 L234.30,438.15 L234.55,436.33 L234.80,434.50 L235.05,432.58 L235.30,430.50 L235.55,428.23 L235.80,425.84 L236.05,423.29 L236.30,420.52 L236.55,417.46 L236.80,414.05 L237.05,410.22 L237.30,405.53 L237.55,398.90 L237.80,387.13 L238.05,371.07 L238.30,353.48 L238.55,337.03 L238.80,321.32 L239.05,305.38 L239.30,289.14 L239.55,272.52 L239.80,255.30 L240.05,237.39 L240.30,219.31 L240.55,201.60 L240.80,183.72 L241.05,165.41 L241.30,149.73 L241.55,138.55 L241.80,129.56 L242.05,124.80 L242.30,122.26 L242.55,120.40 L242.80,119.43 L243.05,119.41 L243.30,119.78 L243.55,120.41 L243.80,121.21 L244.05,122.09 L244.30,122.96 L244.55,123.75 L244.80,124.61 L245.05,125.58 L245.30,126.55 L245.55,127.45 L245.80,128.18 L246.05,128.64 L246.30,129.00 L246.55,129.33 L246.80,129.61 L247.05,129.82 L247.30,129.96 L247.55,129.98 L247.80,129.81 L248.05,129.44 L248.30,128.91 L248.55,128.30 L248.80,127.65 L249.05,127.02 L249.30,126.27 L249.55,125.36 L249.80,124.35 L250.05,123.30 L250.30,122.28 L250.55,121.34 L250.80,120.54 L251.05,119.95 L251.30,119.43 L251.55,118.91 L251.80,118.42 L252.05,117.94 L252.30,117.51 L252.55,117.11 L252.80,116.78 L253.05,116.50 L253.30,116.30 L253.55,116.18 L253.80,116.15 L254.05,116.18 L254.30,116.25 L254.55,116.36 L254.80,116.50 L255.05,116.64 L255.30,116.80 L255.55,116.96 L255.80,117.10 L256.05,117.24 L256.30,117.37 L256.55,117.53 L256.80,117.70 L257.05,117.87 L257.30,118.04 L257.55,118.20 L257.80,118.34 L258.05,118.47 L258.30,118.56 L258.55,118.62 L258.80,118.63 L259.05,118.60 L259.30,118.52 L259.55,118.42 L259.80,118.28 L260.05,118.13 L260.30,117.95 L260.55,117.77 L260.80,117.59 L261.05,117.40 L261.30,117.23 L261.55,117.08 L261.80,116.94 L262.05,116.84 L262.30,116.74 L262.55,116.64 L262.80,116.54 L263.05,116.44 L263.30,116.34 L263.55,116.24 L263.80,116.14 L264.05,116.05 L264.30,115.97 L264.55,115.89 L264.80,115.82 L265.05,115.76 L265.30,115.71 L265.55,115.67 L265.80,115.63 L266.05,115.62 L266.30,115.61 L266.55,115.63 L266.80,115.67 L267.05,115.73 L267.30,115.82 L267.55,115.91 L267.80,116.03 L268.05,116.15 L268.30,116.29 L268.55,116.44 L268.80,116.59 L269.05,116.75 L269.30,116.91 L269.55,117.07 L269.80,117.23 L270.05,117.39 L270.30,117.54 L270.55,117.69 L270.80,117.82 L271.05,117.94 L271.30,118.07 L271.55,118.21 L271.80,118.35 L272.05,118.50 L272.30,118.65 L272.55,118.81 L272.80,118.96 L273.05,119.11 L273.30,119.26 L273.55,119.40 L273.80,119.53 L274.05,119.65 L274.30,119.76 L274.55,119.86 L274.80,119.93 L275.05,119.99 L275.30,120.03 L275.55,120.05 L275.80,120.04 L276.05,119.99 L276.30,119.91 L276.55,119.81 L276.80,119.68 L277.05,119.54 L277.30,119.38 L277.55,119.21 L277.80,119.04 L278.05,118.86 L278.30,118.69 L278.55,118.53 L278.80,118.38 L279.05,118.25 L279.30,118.11 L279.55,117.96 L279.80,117.80 L280.05,117.64 L280.30,117.47 L280.55,117.32 L280.80,117.18 L281.05,117.06 L281.30,116.96 L281.55,116.89 L281.80,116.86 L282.05,116.86 L282.30,116.88 L282.55,116.93 L282.80,116.99 L283.05,117.08 L283.30,117.17 L283.55,117.28 L283.80,117.41 L284.05,117.54 L284.30,117.69 L284.55,117.84 L284.80,117.99 L285.05,118.15 L285.30,118.31 L285.55,118.48 L285.80,118.64 L286.05,118.80 L286.30,118.95 L286.55,119.10 L286.80,119.24 L287.05,119.37 L287.30,119.50 L287.55,119.64 L287.80,119.80 L288.05,119.95 L288.30,120.12 L288.55,120.29 L288.80,120.46 L289.05,120.64 L289.30,120.81 L289.55,120.98 L289.80,121.15 L290.05,121.32 L290.30,121.48 L290.55,121.64 L290.80,121.79 L291.05,121.93 L291.30,122.05 L291.55,122.17 L291.80,122.27 L292.05,122.36 L292.30,122.43 L292.55,122.48 L292.80,122.52 L293.05,122.53 L293.30,122.52 L293.55,122.48 L293.80,122.41 L294.05,122.32 L294.30,122.20 L294.55,122.05 L294.80,121.90 L295.05,121.72 L295.30,121.53 L295.55,121.33 L295.80,121.12 L296.05,120.91 L296.30,120.69 L296.55,120.47 L296.80,120.26 L297.05,120.05 L297.30,119.85 L297.55,119.65 L297.80,119.47 L298.05,119.31 L298.30,119.14 L298.55,118.95 L298.80,118.76 L299.05,118.55 L299.30,118.34 L299.55,118.13 L299.80,117.92 L300.05,117.72 L300.30,117.52 L300.55,117.33 L300.80,117.15 L301.05,116.99 L301.30,116.85 L301.55,116.72 L301.80,116.63 L302.05,116.55 L302.30,116.51 L302.55,116.50 L302.80,116.51 L303.05,116.54 L303.30,116.58 L303.55,116.64 L303.80,116.71 L304.05,116.78 L304.30,116.87 L304.55,116.96 L304.80,117.06 L305.05,117.16 L305.30,117.27 L305.55,117.37 L305.80,117.48 L306.05,117.58 L306.30,117.68 L306.55,117.77 L306.80,117.86 L307.05,117.94 L307.30,118.02 L307.55,118.10 L307.80,118.19 L308.05,118.28 L308.30,118.38 L308.55,118.48 L308.80,118.57 L309.05,118.67 L309.30,118.76 L309.55,118.85 L309.80,118.94 L310.05,119.02 L310.30,119.09 L310.55,119.16 L310.80,119.22 L311.05,119.26 L311.30,119.30 L311.55,119.33 L311.80,119.34 L312.05,119.33 L312.30,119.29 L312.55,119.20 L312.80,119.08 L313.05,118.94 L313.30,118.76 L313.55,118.57 L313.80,118.36 L314.05,118.14 L314.30,117.92 L314.55,117.68 L314.80,117.45 L315.05,117.23 L315.30,117.01 L315.55,116.81 L315.80,116.63 L316.05,116.47 L316.30,116.31 L316.55,116.14 L316.80,115.97 L317.05,115.79 L317.30,115.61 L317.55,115.43 L317.80,115.25 L318.05,115.07 L318.30,114.90 L318.55,114.73 L318.80,114.57 L319.05,114.41 L319.30,114.27 L319.55,114.13 L319.80,114.01 L320.05,113.91 L320.30,113.82 L320.55,113.75 L320.80,113.70 L321.05,113.67 L321.30,113.66 L321.55,113.67 L321.80,113.68 L322.05,113.71 L322.30,113.74 L322.55,113.79 L322.80,113.83 L323.05,113.89 L323.30,113.94 L323.55,114.00 L323.80,114.06 L324.05,114.13 L324.30,114.19 L324.55,114.26 L324.80,114.32 L325.05,114.38 L325.30,114.45 L325.55,114.54 L325.80,114.63 L326.05,114.74 L326.30,114.85 L326.55,114.96 L326.80,115.07 L327.05,115.18 L327.30,115.28 L327.55,115.38 L327.80,115.46 L328.05,115.52 L328.30,115.57 L328.55,115.60 L328.80,115.61 L329.05,115.60 L329.30,115.57 L329.55,115.53 L329.80,115.48 L330.05,115.42 L330.30,115.35 L330.55,115.29 L330.80,115.22 L331.05,115.17 L331.30,115.11 L331.55,115.07 L331.80,115.03 L332.05,114.99 L332.30,114.95 L332.55,114.91 L332.80,114.87 L333.05,114.83 L333.30,114.80 L333.55,114.77 L333.80,114.75 L334.05,114.73 L334.30,114.73 L334.55,114.74 L334.80,114.86 L335.05,115.06 L335.30,115.34 L335.55,115.68 L335.80,116.08 L336.05,116.51 L336.30,116.97 L336.55,117.44 L336.80,117.91 L337.05,118.37 L337.30,118.88 L337.55,119.47 L337.80,120.13 L338.05,120.83 L338.30,121.57 L338.55,122.33 L338.80,123.10 L339.05,123.86 L339.30,124.60 L339.55,125.30 L339.80,125.96 L340.05,126.55 L340.30,127.12 L340.55,127.66 L340.80,128.20 L341.05,128.72 L341.30,129.22 L341.55,129.71 L341.80,130.18 L342.05,130.64 L342.30,131.07 L342.55,131.49 L342.80,131.94 L343.05,132.40 L343.30,132.88 L343.55,133.35 L343.80,133.79 L344.05,134.18 L344.30,134.51 L344.55,134.77 L344.80,134.92 L345.05,134.96 L345.30,134.86 L345.55,134.64 L345.80,134.32 L346.05,133.93 L346.30,133.48 L346.55,133.00 L346.80,132.51 L347.05,132.02 L347.30,131.43 L347.55,130.72 L347.80,129.92 L348.05,129.09 L348.30,128.27 L348.55,127.51 L348.80,126.85 L349.05,126.35 L349.30,125.89 L349.55,125.43 L349.80,125.02 L350.05,124.67 L350.30,124.42 L350.55,124.31 L350.80,124.35 L351.05,124.53 L351.30,124.84 L351.55,125.26 L351.80,125.79 L352.05,126.42 L352.30,127.15 L352.55,128.60 L352.80,131.12 L353.05,134.32 L353.30,137.80 L353.55,141.69 L353.80,146.35 L354.05,151.69 L354.30,157.64 L354.55,164.40 L354.80,172.78 L355.05,182.01 L355.30,191.17 L355.55,199.58 L355.80,207.80 L356.05,215.90 L356.30,223.85 L356.55,231.64 L356.80,239.18 L357.05,246.55 L357.30,253.92 L357.55,261.44 L357.80,269.12 L358.05,276.89 L358.30,284.68 L358.55,292.45 L358.80,300.35 L359.05,308.55 L359.30,316.62 L359.55,324.15 L359.80,330.73 L360.05,336.63 L360.30,342.12 L360.55,347.29 L360.80,352.18 L361.05,356.87 L361.30,361.42 L361.55,365.89 L361.80,370.32 L362.05,374.68 L362.30,378.94 L362.55,383.09 L362.80,387.09 L363.05,390.92 L363.30,394.55 L363.55,397.95 L363.80,401.11 L364.05,404.04 L364.30,406.77 L364.55,409.35 L364.80,411.81 L365.05,414.17 L365.30,416.47 L365.55,418.74 L365.80,420.95 L366.05,423.09 L366.30,425.15 L366.55,427.10 L366.80,428.92 L367.05,430.62 L367.30,432.25 L367.55,433.80 L367.80,435.26 L368.05,436.59 L368.30,437.77 L368.55,438.85 L368.80,439.85 L369.05,440.78 L369.30,441.66 L369.55,442.47 L369.80,443.23 L370.05,443.95 L370.30,444.63 L370.55,445.27 L370.80,445.88 L371.05,446.47 L371.30,447.03 L371.55,447.57 L371.80,448.09 L372.05,448.60 L372.30,449.10 L372.55,449.59 L372.80,450.08 L373.05,450.57 L373.30,451.06 L373.55,451.54 L373.80,452.00 L374.05,452.43 L374.30,452.84 L374.55,453.20 L374.80,453.53 L375.05,453.80 L375.30,454.05 L375.55,454.28 L375.80,454.49 L376.05,454.69 L376.30,454.88 L376.55,455.06 L376.80,455.23 L377.05,455.40 L377.30,455.55 L377.55,455.70 L377.80,455.85 L378.05,455.99 L378.30,456.13 L378.55,456.26 L378.80,456.40 L379.05,456.53 L379.30,456.67 L379.55,456.80 L379.80,456.92 L380.05,457.05 L380.30,457.17 L380.55,457.28 L380.80,457.39 L381.05,457.50 L381.30,457.60 L381.55,457.70 L381.80,457.79 L382.05,457.87 L382.30,457.95 L382.55,458.02 L382.80,458.09 L383.05,458.16 L383.30,458.22 L383.55,458.29 L383.80,458.35 L384.05,458.41 L384.30,458.47 L384.55,458.53 L384.80,458.58 L385.05,458.63 L385.30,458.69 L385.55,458.73 L385.80,458.78 L386.05,458.82 L386.30,458.87 L386.55,458.90 L386.80,458.94 L387.05,458.97 L387.30,459.01 L387.55,459.03 L387.80,459.06 L388.05,459.08 L388.30,459.10 L388.55,459.12 L388.80,459.14 L389.05,459.16 L389.30,459.18 L389.55,459.20 L389.80,459.22 L390.05,459.23 L390.30,459.25 L390.55,459.27 L390.80,459.28 L391.05,459.30 L391.30,459.31 L391.55,459.33 L391.80,459.34 L392.05,459.35 L392.30,459.36 L392.55,459.38 L392.80,459.39 L393.05,459.39 L393.30,459.40 L393.55,459.41 L393.80,459.42 L394.05,459.42 L394.30,459.43 L394.55,459.43 L394.80,459.43 L395.05,459.43 L395.30,459.43 L395.55,459.41 L395.80,459.40 L396.05,459.37 L396.30,459.35 L396.55,459.31 L396.80,459.28 L397.05,459.24 L397.30,459.20 L397.55,459.15 L397.80,459.11 L398.05,459.06 L398.30,459.02 L398.55,458.97 L398.80,458.92 L399.05,458.88 L399.30,458.83 L399.55,458.79 L399.80,458.75 L400.05,458.71 L400.30,458.68 L400.55,458.64 L400.80,458.61 L401.05,458.58 L401.30,458.55 L401.55,458.52 L401.80,458.49 L402.05,458.46 L402.30,458.43 L402.55,458.40 L402.80,458.37 L403.05,458.34 L403.30,458.32 L403.55,458.29 L403.80,458.25 L404.05,458.22 L404.30,458.19 L404.55,458.16 L404.80,458.13 L405.05,458.09 L405.30,458.05 L405.55,458.02 L405.80,457.98 L406.05,457.93 L406.30,457.89 L406.55,457.85 L406.80,457.80 L407.05,457.75 L407.30,457.70 L407.55,457.64 L407.80,457.58 L408.05,457.51 L408.30,457.44 L408.55,457.35 L408.80,457.26 L409.05,457.17 L409.30,457.06 L409.55,456.96 L409.80,456.85 L410.05,456.73 L410.30,456.61 L410.55,456.49 L410.80,456.37 L411.05,456.25 L411.30,456.12 L411.55,455.99 L411.80,455.87 L412.05,455.75 L412.30,455.62 L412.55,455.50 L412.80,455.38 L413.05,455.26 L413.30,455.14 L413.55,455.01 L413.80,454.89 L414.05,454.76 L414.30,454.63 L414.55,454.50 L414.80,454.36 L415.05,454.23 L415.30,454.09 L415.55,453.94 L415.80,453.80 L416.05,453.65 L416.30,453.49 L416.55,453.33 L416.80,453.17 L417.05,453.01 L417.30,452.83 L417.55,452.64 L417.80,452.43 L418.05,452.22 L418.30,452.01 L418.55,451.79 L418.80,451.57 L419.05,451.35 L419.30,451.13 L419.55,450.92 L419.80,450.71 L420.05,450.52 L420.30,450.32 L420.55,450.11 L420.80,449.91 L421.05,449.70 L421.30,449.50 L421.55,449.31 L421.80,449.14 L422.05,448.99 L422.30,448.86 L422.55,448.76 L422.80,448.67 L423.05,448.59 L423.30,448.51 L423.55,448.43 L423.80,448.36 L424.05,448.29 L424.30,448.23 L424.55,448.18 L424.80,448.13 L425.05,448.10 L425.30,448.08 L425.55,448.07 L425.80,448.08 L426.05,448.10 L426.30,448.15 L426.55,448.21 L426.80,448.29 L427.05,448.38 L427.30,448.48 L427.55,448.59 L427.80,448.71 L428.05,448.83 L428.30,448.96 L428.55,449.11 L428.80,449.32 L429.05,449.56 L429.30,449.84 L429.55,450.15 L429.80,450.47 L430.05,450.80 L430.30,451.13 L430.55,451.45 L430.80,451.75 L431.05,452.03 L431.30,452.30 L431.55,452.59 L431.80,452.87 L432.05,453.17 L432.30,453.46 L432.55,453.75 L432.80,454.04 L433.05,454.32 L433.30,454.59 L433.55,454.86 L433.80,455.11 L434.05,455.34 L434.30,455.56 L434.55,455.76 L434.80,455.93 L435.05,456.09 L435.30,456.23 L435.55,456.36 L435.80,456.50 L436.05,456.63 L436.30,456.75 L436.55,456.88 L436.80,456.99 L437.05,457.11 L437.30,457.22 L437.55,457.32 L437.80,457.42 L438.05,457.52 L438.30,457.62 L438.55,457.71 L438.80,457.79 L439.05,457.87 L439.30,457.95 L439.55,458.02 L439.80,458.09 L440.05,458.16 L440.30,458.22 L440.55,458.27 L440.80,458.33 L441.05,458.37 L441.30,458.42 L441.55,458.47 L441.80,458.51 L442.05,458.56 L442.30,458.60 L442.55,458.65 L442.80,458.69 L443.05,458.73 L443.30,458.78 L443.55,458.82 L443.80,458.86 L444.05,458.90 L444.30,458.94 L444.55,458.98 L444.80,459.01 L445.05,459.05 L445.30,459.08 L445.55,459.12 L445.80,459.15 L446.05,459.18 L446.30,459.21 L446.55,459.23 L446.80,459.26 L447.05,459.28 L447.30,459.31 L447.55,459.33 L447.80,459.35 L448.05,459.36 L448.30,459.38 L448.55,459.39 L448.80,459.40 L449.05,459.41 L449.30,459.42 L449.55,459.43 L449.80,459.43 L450.05,459.43 L450.30,459.43 L450.55,459.42 L450.80,459.42 L451.05,459.41 L451.30,459.39 L451.55,459.38 L451.80,459.36 L452.05,459.34 L452.30,459.32 L452.55,459.30 L452.80,459.27 L453.05,459.25 L453.30,459.22 L453.55,459.19 L453.80,459.17 L454.05,459.14 L454.30,459.11 L454.55,459.08 L454.80,459.05 L455.05,459.01 L455.30,458.98 L455.55,458.95 L455.80,458.92 L456.05,458.89 L456.30,458.86 L456.55,458.83 L456.80,458.79 L457.05,458.76 L457.30,458.72 L457.55,458.68 L457.80,458.64 L458.05,458.60 L458.30,458.55 L458.55,458.51 L458.80,458.46 L459.05,458.41 L459.30,458.36 L459.55,458.31 L459.80,458.26 L460.05,458.21 L460.30,458.16 L460.55,458.10 L460.80,458.05 L461.05,457.99 L461.30,457.94 L461.55,457.88 L461.80,457.82 L462.05,457.76 L462.30,457.70 L462.55,457.64 L462.80,457.58 L463.05,457.51 L463.30,457.44 L463.55,457.36 L463.80,457.28 L464.05,457.20 L464.30,457.11 L464.55,457.02 L464.80,456.93 L465.05,456.84 L465.30,456.75 L465.55,456.65 L465.80,456.56 L466.05,456.47 L466.30,456.38 L466.55,456.28 L466.80,456.19 L467.05,456.11 L467.30,456.02 L467.55,455.94 L467.80,455.86 L468.05,455.78 L468.30,455.71 L468.55,455.64 L468.80,455.57 L469.05,455.51 L469.30,455.46 L469.55,455.40 L469.80,455.34 L470.05,455.27 L470.30,455.21 L470.55,455.15 L470.80,455.09 L471.05,455.03 L471.30,454.97 L471.55,454.92 L471.80,454.86 L472.05,454.81 L472.30,454.76 L472.55,454.71 L472.80,454.67 L473.05,454.63 L473.30,454.59 L473.55,454.56 L473.80,454.53 L474.05,454.50 L474.30,454.48 L474.55,454.47 L474.80,454.46 L475.05,454.46 L475.30,454.46 L475.55,454.46 L475.80,454.47 L476.05,454.47 L476.30,454.48 L476.55,454.49 L476.80,454.50 L477.05,454.51 L477.30,454.52 L477.55,454.53 L477.80,454.54 L478.05,454.56 L478.30,454.57 L478.55,454.58 L478.80,454.60 L479.05,454.62 L479.30,454.63 L479.55,454.65 L479.80,454.67 L480.05,454.68 L480.30,454.70 L480.55,454.72 L480.80,454.73 L481.05,454.75 L481.30,454.77 L481.55,454.79 L481.80,454.80 L482.05,454.82 L482.30,454.84 L482.55,454.86 L482.80,454.88 L483.05,454.90 L483.30,454.92 L483.55,454.95 L483.80,454.98 L484.05,455.00 L484.30,455.03 L484.55,455.06 L484.80,455.09 L485.05,455.12 L485.30,455.15 L485.55,455.18 L485.80,455.21 L486.05,455.24 L486.30,455.27 L486.55,455.30 L486.80,455.32 L487.05,455.35 L487.30,455.38 L487.55,455.40 L487.80,455.42 L488.05,455.44 L488.30,455.46 L488.55,455.48 L488.80,455.49 L489.05,455.50 L489.30,455.51 L489.55,455.52 L489.80,455.52 L490.05,455.52 L490.30,455.52 L490.55,455.52 L490.80,455.51 L491.05,455.50 L491.30,455.49 L491.55,455.48 L491.80,455.47 L492.05,455.45 L492.30,455.43 L492.55,455.41 L492.80,455.39 L493.05,455.37 L493.30,455.35 L493.55,455.32 L493.80,455.30 L494.05,455.27 L494.30,455.24 L494.55,455.21 L494.80,455.18 L495.05,455.15 L495.30,455.12 L495.55,455.09 L495.80,455.05 L496.05,455.02 L496.30,454.99 L496.55,454.95 L496.80,454.90 L497.05,454.84 L497.30,454.78 L497.55,454.72 L497.80,454.64 L498.05,454.57 L498.30,454.48 L498.55,454.40 L498.80,454.30 L499.05,454.21 L499.30,454.11 L499.55,454.02 L499.80,453.91 L500.05,453.81 L500.30,453.71 L500.55,453.61 L500.80,453.50 L501.05,453.40 L501.30,453.30 L501.55,453.20 L501.80,453.10 L502.05,453.01 L502.30,452.92 L502.55,452.83 L502.80,452.75 L503.05,452.67 L503.30,452.59 L503.55,452.51 L503.80,452.42 L504.05,452.34 L504.30,452.25 L504.55,452.16 L504.80,452.07 L505.05,451.98 L505.30,451.88 L505.55,451.79 L505.80,451.70 L506.05,451.60 L506.30,451.51 L506.55,451.42 L506.80,451.33 L507.05,451.24 L507.30,451.15 L507.55,451.06 L507.80,450.98 L508.05,450.90 L508.30,450.82 L508.55,450.75 L508.80,450.68 L509.05,450.61 L509.30,450.55 L509.55,450.49 L509.80,450.43 L510.05,450.38 L510.30,450.34 L510.55,450.30 L510.80,450.27 L511.05,450.24 L511.30,450.22 L511.55,450.21 L511.80,450.20 L512.05,450.20 L512.30,450.22 L512.55,450.24 L512.80,450.27 L513.05,450.32 L513.30,450.37 L513.55,450.43 L513.80,450.50 L514.05,450.57 L514.30,450.65 L514.55,450.74 L514.80,450.83 L515.05,450.92 L515.30,451.01 L515.55,451.10 L515.80,451.19 L516.05,451.29 L516.30,451.38 L516.55,451.47 L516.80,451.55 L517.05,451.64 L517.30,451.72 L517.55,451.81 L517.80,451.90 L518.05,452.00 L518.30,452.10 L518.55,452.20 L518.80,452.31 L519.05,452.41 L519.30,452.52 L519.55,452.63 L519.80,452.73 L520.05,452.84 L520.30,452.94 L520.55,453.05 L520.80,453.15 L521.05,453.25 L521.30,453.35 L521.55,453.44 L521.80,453.53 L522.05,453.61 L522.30,453.69 L522.55,453.76 L522.80,453.84 L523.05,453.91 L523.30,453.97 L523.55,454.04 L523.80,454.11 L524.05,454.18 L524.30,454.24 L524.55,454.31 L524.80,454.37 L525.05,454.43 L525.30,454.49 L525.55,454.55 L525.80,454.60 L526.05,454.65 L526.30,454.71 L526.55,454.76 L526.80,454.80 L527.05,454.85 L527.30,454.89 L527.55,454.93 L527.80,454.97 L528.05,455.00 L528.30,455.03 L528.55,455.07 L528.80,455.10 L529.05,455.13 L529.30,455.16 L529.55,455.20 L529.80,455.23 L530.05,455.26 L530.30,455.29 L530.55,455.32 L530.80,455.35 L531.05,455.37 L531.30,455.40 L531.55,455.42 L531.80,455.44 L532.05,455.46 L532.30,455.48 L532.55,455.49 L532.80,455.50 L533.05,455.51 L533.30,455.52 L533.55,455.52 L533.80,455.52 L534.05,455.52 L534.30,455.52 L534.55,455.51 L534.80,455.49 L535.05,455.48 L535.30,455.46 L535.55,455.44 L535.80,455.42 L536.05,455.39 L536.30,455.36 L536.55,455.33 L536.80,455.30 L537.05,455.27 L537.30,455.24 L537.55,455.20 L537.80,455.17 L538.05,455.13 L538.30,455.10 L538.55,455.06 L538.80,455.02 L539.05,454.99 L539.30,454.95 L539.55,454.91 L539.80,454.86 L540.05,454.82 L540.30,454.77 L540.55,454.72 L540.80,454.66 L541.05,454.60 L541.30,454.54 L541.55,454.48 L541.80,454.41 L542.05,454.34 L542.30,454.26 L542.55,454.18 L542.80,454.10 L543.05,454.01 L543.30,453.92 L543.55,453.83 L543.80,453.73 L544.05,453.61 L544.30,453.48 L544.55,453.33 L544.80,453.16 L545.05,452.97 L545.30,452.78 L545.55,452.57 L545.80,452.35 L546.05,452.12 L546.30,451.88 L546.55,451.64 L546.80,451.40 L547.05,451.15 L547.30,450.90 L547.55,450.65 L547.80,450.40 L548.05,450.15 L548.30,449.90 L548.55,449.64 L548.80,449.37 L549.05,449.10 L549.30,448.81 L549.55,448.53 L549.80,448.23 L550.05,447.93 L550.30,447.63 L550.55,447.32 L550.80,447.01 L551.05,446.70 L551.30,446.39 L551.55,446.07 L551.80,445.76 L552.05,445.44 L552.30,445.13 L552.55,444.81 L552.80,444.49 L553.05,444.16 L553.30,443.83 L553.55,443.48 L553.80,443.14 L554.05,442.79 L554.30,442.44 L554.55,442.10 L554.80,441.76 L555.05,441.43 L555.30,441.10 L555.55,440.79 L555.80,440.49 L556.05,440.20 L556.30,439.92 L556.55,439.65 L556.80,439.37 L557.05,439.10 L557.30,438.83 L557.55,438.57 L557.80,438.31 L558.05,438.06 L558.30,437.81 L558.55,437.57 L558.80,437.34 L559.05,437.12 L559.30,436.91 L559.55,436.70 L559.80,436.50 L560.05,436.32 L560.30,436.14 L560.55,435.96 L560.80,435.78 L561.05,435.61 L561.30,435.44 L561.55,435.28 L561.80,435.13 L562.05,434.99 L562.30,434.87 L562.55,434.75 L562.80,434.65 L563.05,434.56 L563.30,434.48 L563.55,434.40 L563.80,434.33 L564.05,434.25 L564.30,434.18 L564.55,434.11 L564.80,434.05 L565.05,434.00 L565.30,433.95 L565.55,433.92 L565.80,433.89 L566.05,433.87 L566.30,433.87 L566.55,433.88 L566.80,433.91 L567.05,433.95 L567.30,434.00 L567.55,434.06 L567.80,434.13 L568.05,434.21 L568.30,434.30 L568.55,434.39 L568.80,434.48 L569.05,434.58 L569.30,434.67 L569.55,434.77 L569.80,434.86 L570.05,434.95 L570.30,435.05 L570.55,435.15 L570.80,435.27 L571.05,435.39 L571.30,435.51 L571.55,435.64 L571.80,435.78 L572.05,435.91 L572.30,436.05 L572.55,436.19 L572.80,436.33 L573.05,436.47 L573.30,436.61 L573.55,436.74 L573.80,436.87 L574.05,437.00 L574.30,437.12 L574.55,437.24 L574.80,437.34 L575.05,437.44 L575.30,437.53 L575.55,437.63 L575.80,437.72 L576.05,437.82 L576.30,437.91 L576.55,438.00 L576.80,438.09 L577.05,438.17 L577.30,438.25 L577.55,438.33 L577.80,438.40 L578.05,438.47 L578.30,438.53 L578.55,438.58 L578.80,438.63 L579.05,438.67 L579.30,438.71 L579.55,438.75 L579.80,438.78 L580.05,438.82 L580.30,438.85 L580.55,438.88 L580.80,438.91 L581.05,438.94 L581.30,438.96 L581.55,438.98 L581.80,439.00 L582.05,439.01 L582.30,439.02 L582.55,439.02 L582.80,439.00 L583.05,438.97 L583.30,438.92 L583.55,438.85 L583.80,438.77 L584.05,438.68 L584.30,438.58 L584.55,438.47 L584.80,438.36 L585.05,438.24 L585.30,438.11 L585.55,437.99 L585.80,437.87 L586.05,437.75 L586.30,437.63 L586.55,437.50 L586.80,437.36 L587.05,437.22 L587.30,437.07 L587.55,436.91 L587.80,436.74 L588.05,436.57 L588.30,436.39 L588.55,436.20 L588.80,436.00 L589.05,435.80 L589.30,435.58 L589.55,435.36 L589.80,435.13 L590.05,434.89 L590.30,434.61 L590.55,434.30 L590.80,433.96 L591.05,433.59 L591.30,433.21 L591.55,432.82 L591.80,432.43 L592.05,432.04 L592.30,431.67 L592.55,431.32 L592.80,430.97 L593.05,430.63 L593.30,430.28 L593.55,429.94 L593.80,429.60 L594.05,429.26 L594.30,428.92 L594.55,428.59 L594.80,428.25 L595.05,427.92 L595.30,427.58 L595.55,427.25 L595.80,426.92 L596.05,426.59 L596.30,426.26 L596.55,425.94 L596.80,425.61 L597.05,425.29 L597.30,424.96 L597.55,424.64 L597.80,424.31 L598.05,423.99 L598.30,423.67 L598.55,423.35 L598.80,423.03 L599.05,422.71 L599.30,422.40 L599.55,422.08 L599.80,421.77 L600.05,421.46 L600.30,421.16 L600.55,420.85 L600.80,420.55 L601.05,420.26 L601.30,419.97 L601.55,419.68 L601.80,419.39 L602.05,419.10 L602.30,418.81 L602.55,418.52 L602.80,418.24 L603.05,417.97 L603.30,417.69 L603.55,417.43 L603.80,417.17 L604.05,416.91 L604.30,416.67 L604.55,416.43 L604.80,416.19 L605.05,415.94 L605.30,415.70 L605.55,415.45 L605.80,415.21 L606.05,414.98 L606.30,414.76 L606.55,414.56 L606.80,414.37 L607.05,414.21 L607.30,414.08 L607.55,413.97 L607.80,413.87 L608.05,413.78 L608.30,413.69 L608.55,413.60 L608.80,413.52 L609.05,413.43 L609.30,413.36 L609.55,413.28 L609.80,413.22 L610.05,413.16 L610.30,413.10 L610.55,413.05 L610.80,413.01 L611.05,412.98 L611.30,412.95 L611.55,412.93 L611.80,412.93 L612.05,412.93 L612.30,412.96 L612.55,413.01 L612.80,413.07 L613.05,413.15 L613.30,413.25 L613.55,413.35 L613.80,413.46 L614.05,413.58 L614.30,413.69 L614.55,413.80 L614.80,413.91 L615.05,414.01 L615.30,414.11 L615.55,414.21 L615.80,414.31 L616.05,414.41 L616.30,414.52 L616.55,414.63 L616.80,414.73 L617.05,414.84 L617.30,414.95 L617.55,415.06 L617.80,415.17 L618.05,415.28 L618.30,415.39 L618.55,415.50 L618.80,415.61 L619.05,415.72 L619.30,415.84 L619.55,415.96 L619.80,416.09 L620.05,416.22 L620.30,416.35 L620.55,416.48 L620.80,416.60 L621.05,416.72 L621.30,416.82 L621.55,416.92 L621.80,417.01 L622.05,417.09 L622.30,417.15 L622.55,417.19 L622.80,417.23 L623.05,417.27 L623.30,417.30 L623.55,417.34 L623.80,417.37 L624.05,417.40 L624.30,417.43 L624.55,417.45 L624.80,417.48 L625.05,417.49 L625.30,417.51 L625.55,417.52 L625.80,417.53 L626.05,417.54 L626.30,417.54 L626.55,417.52 L626.80,417.48 L627.05,417.41 L627.30,417.32 L627.55,417.22 L627.80,417.10 L628.05,416.97 L628.30,416.83 L628.55,416.69 L628.80,416.54 L629.05,416.39 L629.30,416.24 L629.55,416.09 L629.80,415.94 L630.05,415.77 L630.30,415.60 L630.55,415.41 L630.80,415.21 L631.05,415.00 L631.30,414.78 L631.55,414.56 L631.80,414.32 L632.05,414.08 L632.30,413.84 L632.55,413.58 L632.80,413.32 L633.05,413.04 L633.30,412.74 L633.55,412.43 L633.80,412.11 L634.05,411.78 L634.30,411.44 L634.55,411.09 L634.80,410.73 L635.05,410.37 L635.30,410.00 L635.55,409.62 L635.80,409.24 L636.05,408.84 L636.30,408.43 L636.55,408.00 L636.80,407.56 L637.05,407.09 L637.30,406.59 L637.55,406.07 L637.80,405.52 L638.05,404.92 L638.30,404.29 L638.55,403.62 L638.80,402.92 L639.05,402.18 L639.30,401.42 L639.55,400.63 L639.80,399.82 L640.05,398.99 L640.30,398.16 L640.55,397.30 L640.80,396.42 L641.05,395.50 L641.30,394.54 L641.55,393.53 L641.80,392.46 L642.05,391.33 L642.30,390.12 L642.55,388.84 L642.80,387.47 L643.05,385.99 L643.30,384.19 L643.55,382.03 L643.80,379.62 L644.05,377.04 L644.30,374.40 L644.55,371.79 L644.80,369.31 L645.05,367.05 L645.30,364.95 L645.55,362.92 L645.80,360.94 L646.05,358.99 L646.30,357.06 L646.55,355.12 L646.80,353.14 L647.05,351.12 L647.30,349.02 L647.55,346.91 L647.80,344.82 L648.05,342.72 L648.30,340.58 L648.55,338.37 L648.80,336.05 L649.05,333.59 L649.30,330.96 L649.55,328.11 L649.80,324.97 L650.05,321.57 L650.30,317.94 L650.55,314.14 L650.80,310.21 L651.05,306.18 L651.30,302.11 L651.55,298.02 L651.80,293.97 L652.05,290.00 L652.30,286.14 L652.55,282.38 L652.80,278.67 L653.05,274.95 L653.30,271.18 L653.55,267.30 L653.80,263.28 L654.05,259.05 L654.30,254.49 L654.55,249.60 L654.80,244.51 L655.05,239.30 L655.30,234.07 L655.55,228.94 L655.80,224.00 L656.05,219.34 L656.30,215.07 L656.55,210.85 L656.80,206.56 L657.05,202.28 L657.30,198.11 L657.55,194.13 L657.80,190.42 L658.05,187.08 L658.30,184.19 L658.55,181.84 L658.80,180.09 L659.05,178.59 L659.30,177.15 L659.55,175.80 L659.80,174.58 L660.05,173.52 L660.30,172.65 L660.55,172.01 L660.80,171.62 L661.05,171.53 L661.30,171.65 L661.55,171.94 L661.80,172.39 L662.05,172.98 L662.30,173.72 L662.55,174.60 L662.80,175.60 L663.05,176.71 L663.30,177.94 L663.55,179.27 L663.80,180.73 L664.05,183.37 L664.30,187.41 L664.55,192.45 L664.80,198.12 L665.05,204.02 L665.30,209.76 L665.55,214.96 L665.80,219.57 L666.05,224.11 L666.30,228.61 L666.55,233.07 L666.80,237.50 L667.05,241.88 L667.30,246.23 L667.55,250.54 L667.80,254.82 L668.05,259.07 L668.30,263.32 L668.55,267.57 L668.80,271.80 L669.05,275.96 L669.30,280.02 L669.55,283.92 L669.80,287.63 L670.05,291.26 L670.30,294.85 L670.55,298.40 L670.80,301.91 L671.05,305.35 L671.30,308.71 L671.55,311.99 L671.80,315.18 L672.05,318.27 L672.30,321.24 L672.55,324.08 L672.80,326.80 L673.05,329.36 L673.30,331.79 L673.55,334.10 L673.80,336.33 L674.05,338.46 L674.30,340.52 L674.55,342.51 L674.80,344.45 L675.05,346.34 L675.30,348.19 L675.55,350.01 L675.80,351.82 L676.05,353.62 L676.30,355.42 L676.55,357.22 L676.80,359.00 L677.05,360.76 L677.30,362.48 L677.55,364.16 L677.80,365.79 L678.05,367.35 L678.30,368.84 L678.55,370.25 L678.80,371.61 L679.05,372.95 L679.30,374.25 L679.55,375.50 L679.80,376.68 L680.05,377.79 L680.30,378.81 L680.55,379.74 L680.80,380.58 L681.05,381.39 L681.30,382.17 L681.55,382.91 L681.80,383.64 L682.05,384.34 L682.30,385.01 L682.55,385.66 L682.80,386.30 L683.05,386.91 L683.30,387.51 L683.55,388.09 L683.80,388.66 L684.05,389.21 L684.30,389.75 L684.55,390.29 L684.80,390.82 L685.05,391.34 L685.30,391.85 L685.55,392.37 L685.80,392.88 L686.05,393.39 L686.30,393.90 L686.55,394.42 L686.80,394.92 L687.05,395.41 L687.30,395.89 L687.55,396.36 L687.80,396.83 L688.05,397.28 L688.30,397.73 L688.55,398.17 L688.80,398.61 L689.05,399.04 L689.30,399.48 L689.55,399.91 L689.80,400.33 L690.05,400.76 L690.30,401.20 L690.55,401.63 L690.80,402.07 L691.05,402.50 L691.30,402.93 L691.55,403.34 L691.80,403.74 L692.05,404.13 L692.30,404.49 L692.55,404.83 L692.80,405.15 L693.05,405.47 L693.30,405.78 L693.55,406.09 L693.80,406.39 L694.05,406.68 L694.30,406.97 L694.55,407.25 L694.80,407.52 L695.05,407.79 L695.30,408.04 L695.55,408.29 L695.80,408.53 L696.05,408.76 L696.30,408.98 L696.55,409.19 L696.80,409.40 L697.05,409.59 L697.30,409.78 L697.55,409.96 L697.80,410.14 L698.05,410.32 L698.30,410.50 L698.55,410.67 L698.80,410.83 L699.05,410.99 L699.30,411.14 L699.55,411.29 L699.80,411.43 L700.05,411.57 L700.30,411.70 L700.55,411.82 L700.80,411.93 L701.05,412.04 L701.30,412.14"/>
</g>
<g class="lg">
<line x1="714.8" x2="745.6" y1="208.6" y2="208.6" stroke="#BE4B48"/>
<line x1="714.8" x2="745.6" y1="249.3" y2="249.3" stroke="#4A7EBB"/>
<line x1="714.8" x2="745.6" y1="290" y2="290" stroke="#98B954"/>
<text x="750.3" y="212.9" textLength="22.9" lengthAdjust="spacingAndGlyphs">AVE</text>
<text x="750.4" y="253.9" textLength="6.8" lengthAdjust="spacingAndGlyphs">S</text>
<text x="750.4" y="294.6" textLength="7" lengthAdjust="spacingAndGlyphs">P</text>
</g>
</svg>
</body></html>
